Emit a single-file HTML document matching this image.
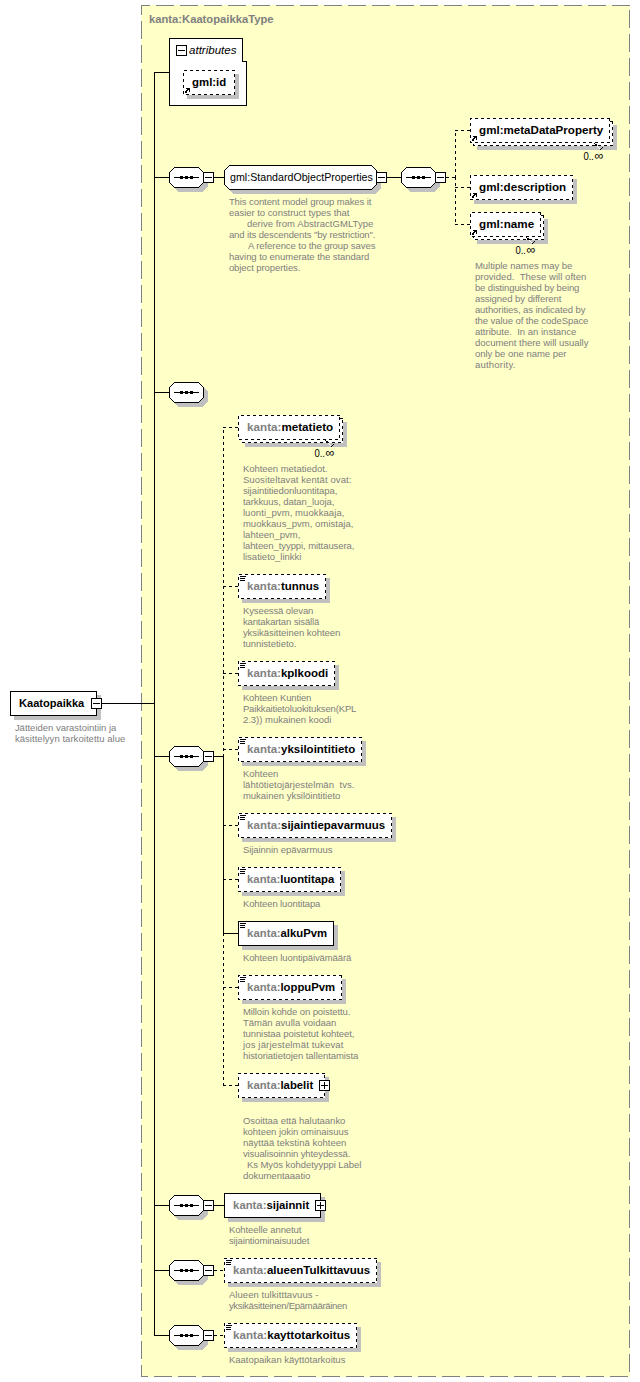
<!DOCTYPE html>
<html><head><meta charset="utf-8"><style>
html,body{margin:0;padding:0;background:#fff;width:640px;height:1382px;overflow:hidden}
svg{display:block;font-family:"Liberation Sans", sans-serif}
svg text{white-space:pre}
</style></head><body>
<svg width="640" height="1382" viewBox="0 0 640 1382" shape-rendering="crispEdges">
<rect x="141" y="5" width="489" height="1372" fill="#FFFFC8"/>
<path d="M141 5h9v1h-9zM156 5h18v1h-18zM180 5h18v1h-18zM204 5h18v1h-18zM228 5h18v1h-18zM252 5h18v1h-18zM276 5h18v1h-18zM300 5h18v1h-18zM324 5h18v1h-18zM348 5h18v1h-18zM372 5h18v1h-18zM396 5h18v1h-18zM420 5h18v1h-18zM444 5h18v1h-18zM468 5h18v1h-18zM492 5h18v1h-18zM516 5h18v1h-18zM540 5h18v1h-18zM564 5h18v1h-18zM588 5h18v1h-18zM612 5h18v1h-18zM141 6h1v1h-1zM141 7h1v1h-1zM141 8h1v1h-1zM141 9h1v1h-1zM141 10h1v1h-1zM629 10h1v1h-1zM141 11h1v1h-1zM629 11h1v1h-1zM141 12h1v1h-1zM629 12h1v1h-1zM141 13h1v1h-1zM629 13h1v1h-1zM141 14h1v1h-1zM629 14h1v1h-1zM629 15h1v1h-1zM629 16h1v1h-1zM629 17h1v1h-1zM629 18h1v1h-1zM629 19h1v1h-1zM629 20h1v1h-1zM141 21h1v1h-1zM629 21h1v1h-1zM141 22h1v1h-1zM629 22h1v1h-1zM141 23h1v1h-1zM629 23h1v1h-1zM141 24h1v1h-1zM629 24h1v1h-1zM141 25h1v1h-1zM629 25h1v1h-1zM141 26h1v1h-1zM629 26h1v1h-1zM141 27h1v1h-1zM629 27h1v1h-1zM141 28h1v1h-1zM141 29h1v1h-1zM141 30h1v1h-1zM141 31h1v1h-1zM141 32h1v1h-1zM141 33h1v1h-1zM141 34h1v1h-1zM629 34h1v1h-1zM141 35h1v1h-1zM629 35h1v1h-1zM141 36h1v1h-1zM629 36h1v1h-1zM141 37h1v1h-1zM629 37h1v1h-1zM141 38h1v1h-1zM629 38h1v1h-1zM629 39h1v1h-1zM629 40h1v1h-1zM629 41h1v1h-1zM629 42h1v1h-1zM629 43h1v1h-1zM629 44h1v1h-1zM141 45h1v1h-1zM629 45h1v1h-1zM141 46h1v1h-1zM629 46h1v1h-1zM141 47h1v1h-1zM629 47h1v1h-1zM141 48h1v1h-1zM629 48h1v1h-1zM141 49h1v1h-1zM629 49h1v1h-1zM141 50h1v1h-1zM629 50h1v1h-1zM141 51h1v1h-1zM629 51h1v1h-1zM141 52h1v1h-1zM141 53h1v1h-1zM141 54h1v1h-1zM141 55h1v1h-1zM141 56h1v1h-1zM141 57h1v1h-1zM141 58h1v1h-1zM629 58h1v1h-1zM141 59h1v1h-1zM629 59h1v1h-1zM141 60h1v1h-1zM629 60h1v1h-1zM141 61h1v1h-1zM629 61h1v1h-1zM141 62h1v1h-1zM629 62h1v1h-1zM629 63h1v1h-1zM629 64h1v1h-1zM629 65h1v1h-1zM629 66h1v1h-1zM629 67h1v1h-1zM629 68h1v1h-1zM141 69h1v1h-1zM629 69h1v1h-1zM141 70h1v1h-1zM629 70h1v1h-1zM141 71h1v1h-1zM629 71h1v1h-1zM141 72h1v1h-1zM629 72h1v1h-1zM141 73h1v1h-1zM629 73h1v1h-1zM141 74h1v1h-1zM629 74h1v1h-1zM141 75h1v1h-1zM629 75h1v1h-1zM141 76h1v1h-1zM141 77h1v1h-1zM141 78h1v1h-1zM141 79h1v1h-1zM141 80h1v1h-1zM141 81h1v1h-1zM141 82h1v1h-1zM629 82h1v1h-1zM141 83h1v1h-1zM629 83h1v1h-1zM141 84h1v1h-1zM629 84h1v1h-1zM141 85h1v1h-1zM629 85h1v1h-1zM141 86h1v1h-1zM629 86h1v1h-1zM629 87h1v1h-1zM629 88h1v1h-1zM629 89h1v1h-1zM629 90h1v1h-1zM629 91h1v1h-1zM629 92h1v1h-1zM141 93h1v1h-1zM629 93h1v1h-1zM141 94h1v1h-1zM629 94h1v1h-1zM141 95h1v1h-1zM629 95h1v1h-1zM141 96h1v1h-1zM629 96h1v1h-1zM141 97h1v1h-1zM629 97h1v1h-1zM141 98h1v1h-1zM629 98h1v1h-1zM141 99h1v1h-1zM629 99h1v1h-1zM141 100h1v1h-1zM141 101h1v1h-1zM141 102h1v1h-1zM141 103h1v1h-1zM141 104h1v1h-1zM141 105h1v1h-1zM141 106h1v1h-1zM629 106h1v1h-1zM141 107h1v1h-1zM629 107h1v1h-1zM141 108h1v1h-1zM629 108h1v1h-1zM141 109h1v1h-1zM629 109h1v1h-1zM141 110h1v1h-1zM629 110h1v1h-1zM629 111h1v1h-1zM629 112h1v1h-1zM629 113h1v1h-1zM629 114h1v1h-1zM629 115h1v1h-1zM629 116h1v1h-1zM141 117h1v1h-1zM629 117h1v1h-1zM141 118h1v1h-1zM629 118h1v1h-1zM141 119h1v1h-1zM629 119h1v1h-1zM141 120h1v1h-1zM629 120h1v1h-1zM141 121h1v1h-1zM629 121h1v1h-1zM141 122h1v1h-1zM629 122h1v1h-1zM141 123h1v1h-1zM629 123h1v1h-1zM141 124h1v1h-1zM141 125h1v1h-1zM141 126h1v1h-1zM141 127h1v1h-1zM141 128h1v1h-1zM141 129h1v1h-1zM141 130h1v1h-1zM629 130h1v1h-1zM141 131h1v1h-1zM629 131h1v1h-1zM141 132h1v1h-1zM629 132h1v1h-1zM141 133h1v1h-1zM629 133h1v1h-1zM141 134h1v1h-1zM629 134h1v1h-1zM629 135h1v1h-1zM629 136h1v1h-1zM629 137h1v1h-1zM629 138h1v1h-1zM629 139h1v1h-1zM629 140h1v1h-1zM141 141h1v1h-1zM629 141h1v1h-1zM141 142h1v1h-1zM629 142h1v1h-1zM141 143h1v1h-1zM629 143h1v1h-1zM141 144h1v1h-1zM629 144h1v1h-1zM141 145h1v1h-1zM629 145h1v1h-1zM141 146h1v1h-1zM629 146h1v1h-1zM141 147h1v1h-1zM629 147h1v1h-1zM141 148h1v1h-1zM141 149h1v1h-1zM141 150h1v1h-1zM141 151h1v1h-1zM141 152h1v1h-1zM141 153h1v1h-1zM141 154h1v1h-1zM629 154h1v1h-1zM141 155h1v1h-1zM629 155h1v1h-1zM141 156h1v1h-1zM629 156h1v1h-1zM141 157h1v1h-1zM629 157h1v1h-1zM141 158h1v1h-1zM629 158h1v1h-1zM629 159h1v1h-1zM629 160h1v1h-1zM629 161h1v1h-1zM629 162h1v1h-1zM629 163h1v1h-1zM629 164h1v1h-1zM141 165h1v1h-1zM629 165h1v1h-1zM141 166h1v1h-1zM629 166h1v1h-1zM141 167h1v1h-1zM629 167h1v1h-1zM141 168h1v1h-1zM629 168h1v1h-1zM141 169h1v1h-1zM629 169h1v1h-1zM141 170h1v1h-1zM629 170h1v1h-1zM141 171h1v1h-1zM629 171h1v1h-1zM141 172h1v1h-1zM141 173h1v1h-1zM141 174h1v1h-1zM141 175h1v1h-1zM141 176h1v1h-1zM141 177h1v1h-1zM141 178h1v1h-1zM629 178h1v1h-1zM141 179h1v1h-1zM629 179h1v1h-1zM141 180h1v1h-1zM629 180h1v1h-1zM141 181h1v1h-1zM629 181h1v1h-1zM141 182h1v1h-1zM629 182h1v1h-1zM629 183h1v1h-1zM629 184h1v1h-1zM629 185h1v1h-1zM629 186h1v1h-1zM629 187h1v1h-1zM629 188h1v1h-1zM141 189h1v1h-1zM629 189h1v1h-1zM141 190h1v1h-1zM629 190h1v1h-1zM141 191h1v1h-1zM629 191h1v1h-1zM141 192h1v1h-1zM629 192h1v1h-1zM141 193h1v1h-1zM629 193h1v1h-1zM141 194h1v1h-1zM629 194h1v1h-1zM141 195h1v1h-1zM629 195h1v1h-1zM141 196h1v1h-1zM141 197h1v1h-1zM141 198h1v1h-1zM141 199h1v1h-1zM141 200h1v1h-1zM141 201h1v1h-1zM141 202h1v1h-1zM629 202h1v1h-1zM141 203h1v1h-1zM629 203h1v1h-1zM141 204h1v1h-1zM629 204h1v1h-1zM141 205h1v1h-1zM629 205h1v1h-1zM141 206h1v1h-1zM629 206h1v1h-1zM629 207h1v1h-1zM629 208h1v1h-1zM629 209h1v1h-1zM629 210h1v1h-1zM629 211h1v1h-1zM629 212h1v1h-1zM141 213h1v1h-1zM629 213h1v1h-1zM141 214h1v1h-1zM629 214h1v1h-1zM141 215h1v1h-1zM629 215h1v1h-1zM141 216h1v1h-1zM629 216h1v1h-1zM141 217h1v1h-1zM629 217h1v1h-1zM141 218h1v1h-1zM629 218h1v1h-1zM141 219h1v1h-1zM629 219h1v1h-1zM141 220h1v1h-1zM141 221h1v1h-1zM141 222h1v1h-1zM141 223h1v1h-1zM141 224h1v1h-1zM141 225h1v1h-1zM141 226h1v1h-1zM629 226h1v1h-1zM141 227h1v1h-1zM629 227h1v1h-1zM141 228h1v1h-1zM629 228h1v1h-1zM141 229h1v1h-1zM629 229h1v1h-1zM141 230h1v1h-1zM629 230h1v1h-1zM629 231h1v1h-1zM629 232h1v1h-1zM629 233h1v1h-1zM629 234h1v1h-1zM629 235h1v1h-1zM629 236h1v1h-1zM141 237h1v1h-1zM629 237h1v1h-1zM141 238h1v1h-1zM629 238h1v1h-1zM141 239h1v1h-1zM629 239h1v1h-1zM141 240h1v1h-1zM629 240h1v1h-1zM141 241h1v1h-1zM629 241h1v1h-1zM141 242h1v1h-1zM629 242h1v1h-1zM141 243h1v1h-1zM629 243h1v1h-1zM141 244h1v1h-1zM141 245h1v1h-1zM141 246h1v1h-1zM141 247h1v1h-1zM141 248h1v1h-1zM141 249h1v1h-1zM141 250h1v1h-1zM629 250h1v1h-1zM141 251h1v1h-1zM629 251h1v1h-1zM141 252h1v1h-1zM629 252h1v1h-1zM141 253h1v1h-1zM629 253h1v1h-1zM141 254h1v1h-1zM629 254h1v1h-1zM629 255h1v1h-1zM629 256h1v1h-1zM629 257h1v1h-1zM629 258h1v1h-1zM629 259h1v1h-1zM629 260h1v1h-1zM141 261h1v1h-1zM629 261h1v1h-1zM141 262h1v1h-1zM629 262h1v1h-1zM141 263h1v1h-1zM629 263h1v1h-1zM141 264h1v1h-1zM629 264h1v1h-1zM141 265h1v1h-1zM629 265h1v1h-1zM141 266h1v1h-1zM629 266h1v1h-1zM141 267h1v1h-1zM629 267h1v1h-1zM141 268h1v1h-1zM141 269h1v1h-1zM141 270h1v1h-1zM141 271h1v1h-1zM141 272h1v1h-1zM141 273h1v1h-1zM141 274h1v1h-1zM629 274h1v1h-1zM141 275h1v1h-1zM629 275h1v1h-1zM141 276h1v1h-1zM629 276h1v1h-1zM141 277h1v1h-1zM629 277h1v1h-1zM141 278h1v1h-1zM629 278h1v1h-1zM629 279h1v1h-1zM629 280h1v1h-1zM629 281h1v1h-1zM629 282h1v1h-1zM629 283h1v1h-1zM629 284h1v1h-1zM141 285h1v1h-1zM629 285h1v1h-1zM141 286h1v1h-1zM629 286h1v1h-1zM141 287h1v1h-1zM629 287h1v1h-1zM141 288h1v1h-1zM629 288h1v1h-1zM141 289h1v1h-1zM629 289h1v1h-1zM141 290h1v1h-1zM629 290h1v1h-1zM141 291h1v1h-1zM629 291h1v1h-1zM141 292h1v1h-1zM141 293h1v1h-1zM141 294h1v1h-1zM141 295h1v1h-1zM141 296h1v1h-1zM141 297h1v1h-1zM141 298h1v1h-1zM629 298h1v1h-1zM141 299h1v1h-1zM629 299h1v1h-1zM141 300h1v1h-1zM629 300h1v1h-1zM141 301h1v1h-1zM629 301h1v1h-1zM141 302h1v1h-1zM629 302h1v1h-1zM629 303h1v1h-1zM629 304h1v1h-1zM629 305h1v1h-1zM629 306h1v1h-1zM629 307h1v1h-1zM629 308h1v1h-1zM141 309h1v1h-1zM629 309h1v1h-1zM141 310h1v1h-1zM629 310h1v1h-1zM141 311h1v1h-1zM629 311h1v1h-1zM141 312h1v1h-1zM629 312h1v1h-1zM141 313h1v1h-1zM629 313h1v1h-1zM141 314h1v1h-1zM629 314h1v1h-1zM141 315h1v1h-1zM629 315h1v1h-1zM141 316h1v1h-1zM141 317h1v1h-1zM141 318h1v1h-1zM141 319h1v1h-1zM141 320h1v1h-1zM141 321h1v1h-1zM141 322h1v1h-1zM629 322h1v1h-1zM141 323h1v1h-1zM629 323h1v1h-1zM141 324h1v1h-1zM629 324h1v1h-1zM141 325h1v1h-1zM629 325h1v1h-1zM141 326h1v1h-1zM629 326h1v1h-1zM629 327h1v1h-1zM629 328h1v1h-1zM629 329h1v1h-1zM629 330h1v1h-1zM629 331h1v1h-1zM629 332h1v1h-1zM141 333h1v1h-1zM629 333h1v1h-1zM141 334h1v1h-1zM629 334h1v1h-1zM141 335h1v1h-1zM629 335h1v1h-1zM141 336h1v1h-1zM629 336h1v1h-1zM141 337h1v1h-1zM629 337h1v1h-1zM141 338h1v1h-1zM629 338h1v1h-1zM141 339h1v1h-1zM629 339h1v1h-1zM141 340h1v1h-1zM141 341h1v1h-1zM141 342h1v1h-1zM141 343h1v1h-1zM141 344h1v1h-1zM141 345h1v1h-1zM141 346h1v1h-1zM629 346h1v1h-1zM141 347h1v1h-1zM629 347h1v1h-1zM141 348h1v1h-1zM629 348h1v1h-1zM141 349h1v1h-1zM629 349h1v1h-1zM141 350h1v1h-1zM629 350h1v1h-1zM629 351h1v1h-1zM629 352h1v1h-1zM629 353h1v1h-1zM629 354h1v1h-1zM629 355h1v1h-1zM629 356h1v1h-1zM141 357h1v1h-1zM629 357h1v1h-1zM141 358h1v1h-1zM629 358h1v1h-1zM141 359h1v1h-1zM629 359h1v1h-1zM141 360h1v1h-1zM629 360h1v1h-1zM141 361h1v1h-1zM629 361h1v1h-1zM141 362h1v1h-1zM629 362h1v1h-1zM141 363h1v1h-1zM629 363h1v1h-1zM141 364h1v1h-1zM141 365h1v1h-1zM141 366h1v1h-1zM141 367h1v1h-1zM141 368h1v1h-1zM141 369h1v1h-1zM141 370h1v1h-1zM629 370h1v1h-1zM141 371h1v1h-1zM629 371h1v1h-1zM141 372h1v1h-1zM629 372h1v1h-1zM141 373h1v1h-1zM629 373h1v1h-1zM141 374h1v1h-1zM629 374h1v1h-1zM629 375h1v1h-1zM629 376h1v1h-1zM629 377h1v1h-1zM629 378h1v1h-1zM629 379h1v1h-1zM629 380h1v1h-1zM141 381h1v1h-1zM629 381h1v1h-1zM141 382h1v1h-1zM629 382h1v1h-1zM141 383h1v1h-1zM629 383h1v1h-1zM141 384h1v1h-1zM629 384h1v1h-1zM141 385h1v1h-1zM629 385h1v1h-1zM141 386h1v1h-1zM629 386h1v1h-1zM141 387h1v1h-1zM629 387h1v1h-1zM141 388h1v1h-1zM141 389h1v1h-1zM141 390h1v1h-1zM141 391h1v1h-1zM141 392h1v1h-1zM141 393h1v1h-1zM141 394h1v1h-1zM629 394h1v1h-1zM141 395h1v1h-1zM629 395h1v1h-1zM141 396h1v1h-1zM629 396h1v1h-1zM141 397h1v1h-1zM629 397h1v1h-1zM141 398h1v1h-1zM629 398h1v1h-1zM629 399h1v1h-1zM629 400h1v1h-1zM629 401h1v1h-1zM629 402h1v1h-1zM629 403h1v1h-1zM629 404h1v1h-1zM141 405h1v1h-1zM629 405h1v1h-1zM141 406h1v1h-1zM629 406h1v1h-1zM141 407h1v1h-1zM629 407h1v1h-1zM141 408h1v1h-1zM629 408h1v1h-1zM141 409h1v1h-1zM629 409h1v1h-1zM141 410h1v1h-1zM629 410h1v1h-1zM141 411h1v1h-1zM629 411h1v1h-1zM141 412h1v1h-1zM141 413h1v1h-1zM141 414h1v1h-1zM141 415h1v1h-1zM141 416h1v1h-1zM141 417h1v1h-1zM141 418h1v1h-1zM629 418h1v1h-1zM141 419h1v1h-1zM629 419h1v1h-1zM141 420h1v1h-1zM629 420h1v1h-1zM141 421h1v1h-1zM629 421h1v1h-1zM141 422h1v1h-1zM629 422h1v1h-1zM629 423h1v1h-1zM629 424h1v1h-1zM629 425h1v1h-1zM629 426h1v1h-1zM629 427h1v1h-1zM629 428h1v1h-1zM141 429h1v1h-1zM629 429h1v1h-1zM141 430h1v1h-1zM629 430h1v1h-1zM141 431h1v1h-1zM629 431h1v1h-1zM141 432h1v1h-1zM629 432h1v1h-1zM141 433h1v1h-1zM629 433h1v1h-1zM141 434h1v1h-1zM629 434h1v1h-1zM141 435h1v1h-1zM629 435h1v1h-1zM141 436h1v1h-1zM141 437h1v1h-1zM141 438h1v1h-1zM141 439h1v1h-1zM141 440h1v1h-1zM141 441h1v1h-1zM141 442h1v1h-1zM629 442h1v1h-1zM141 443h1v1h-1zM629 443h1v1h-1zM141 444h1v1h-1zM629 444h1v1h-1zM141 445h1v1h-1zM629 445h1v1h-1zM141 446h1v1h-1zM629 446h1v1h-1zM629 447h1v1h-1zM629 448h1v1h-1zM629 449h1v1h-1zM629 450h1v1h-1zM629 451h1v1h-1zM629 452h1v1h-1zM141 453h1v1h-1zM629 453h1v1h-1zM141 454h1v1h-1zM629 454h1v1h-1zM141 455h1v1h-1zM629 455h1v1h-1zM141 456h1v1h-1zM629 456h1v1h-1zM141 457h1v1h-1zM629 457h1v1h-1zM141 458h1v1h-1zM629 458h1v1h-1zM141 459h1v1h-1zM629 459h1v1h-1zM141 460h1v1h-1zM141 461h1v1h-1zM141 462h1v1h-1zM141 463h1v1h-1zM141 464h1v1h-1zM141 465h1v1h-1zM141 466h1v1h-1zM629 466h1v1h-1zM141 467h1v1h-1zM629 467h1v1h-1zM141 468h1v1h-1zM629 468h1v1h-1zM141 469h1v1h-1zM629 469h1v1h-1zM141 470h1v1h-1zM629 470h1v1h-1zM629 471h1v1h-1zM629 472h1v1h-1zM629 473h1v1h-1zM629 474h1v1h-1zM629 475h1v1h-1zM629 476h1v1h-1zM141 477h1v1h-1zM629 477h1v1h-1zM141 478h1v1h-1zM629 478h1v1h-1zM141 479h1v1h-1zM629 479h1v1h-1zM141 480h1v1h-1zM629 480h1v1h-1zM141 481h1v1h-1zM629 481h1v1h-1zM141 482h1v1h-1zM629 482h1v1h-1zM141 483h1v1h-1zM629 483h1v1h-1zM141 484h1v1h-1zM141 485h1v1h-1zM141 486h1v1h-1zM141 487h1v1h-1zM141 488h1v1h-1zM141 489h1v1h-1zM141 490h1v1h-1zM629 490h1v1h-1zM141 491h1v1h-1zM629 491h1v1h-1zM141 492h1v1h-1zM629 492h1v1h-1zM141 493h1v1h-1zM629 493h1v1h-1zM141 494h1v1h-1zM629 494h1v1h-1zM629 495h1v1h-1zM629 496h1v1h-1zM629 497h1v1h-1zM629 498h1v1h-1zM629 499h1v1h-1zM629 500h1v1h-1zM141 501h1v1h-1zM629 501h1v1h-1zM141 502h1v1h-1zM629 502h1v1h-1zM141 503h1v1h-1zM629 503h1v1h-1zM141 504h1v1h-1zM629 504h1v1h-1zM141 505h1v1h-1zM629 505h1v1h-1zM141 506h1v1h-1zM629 506h1v1h-1zM141 507h1v1h-1zM629 507h1v1h-1zM141 508h1v1h-1zM141 509h1v1h-1zM141 510h1v1h-1zM141 511h1v1h-1zM141 512h1v1h-1zM141 513h1v1h-1zM141 514h1v1h-1zM629 514h1v1h-1zM141 515h1v1h-1zM629 515h1v1h-1zM141 516h1v1h-1zM629 516h1v1h-1zM141 517h1v1h-1zM629 517h1v1h-1zM141 518h1v1h-1zM629 518h1v1h-1zM629 519h1v1h-1zM629 520h1v1h-1zM629 521h1v1h-1zM629 522h1v1h-1zM629 523h1v1h-1zM629 524h1v1h-1zM141 525h1v1h-1zM629 525h1v1h-1zM141 526h1v1h-1zM629 526h1v1h-1zM141 527h1v1h-1zM629 527h1v1h-1zM141 528h1v1h-1zM629 528h1v1h-1zM141 529h1v1h-1zM629 529h1v1h-1zM141 530h1v1h-1zM629 530h1v1h-1zM141 531h1v1h-1zM629 531h1v1h-1zM141 532h1v1h-1zM141 533h1v1h-1zM141 534h1v1h-1zM141 535h1v1h-1zM141 536h1v1h-1zM141 537h1v1h-1zM141 538h1v1h-1zM629 538h1v1h-1zM141 539h1v1h-1zM629 539h1v1h-1zM141 540h1v1h-1zM629 540h1v1h-1zM141 541h1v1h-1zM629 541h1v1h-1zM141 542h1v1h-1zM629 542h1v1h-1zM629 543h1v1h-1zM629 544h1v1h-1zM629 545h1v1h-1zM629 546h1v1h-1zM629 547h1v1h-1zM629 548h1v1h-1zM141 549h1v1h-1zM629 549h1v1h-1zM141 550h1v1h-1zM629 550h1v1h-1zM141 551h1v1h-1zM629 551h1v1h-1zM141 552h1v1h-1zM629 552h1v1h-1zM141 553h1v1h-1zM629 553h1v1h-1zM141 554h1v1h-1zM629 554h1v1h-1zM141 555h1v1h-1zM629 555h1v1h-1zM141 556h1v1h-1zM141 557h1v1h-1zM141 558h1v1h-1zM141 559h1v1h-1zM141 560h1v1h-1zM141 561h1v1h-1zM141 562h1v1h-1zM629 562h1v1h-1zM141 563h1v1h-1zM629 563h1v1h-1zM141 564h1v1h-1zM629 564h1v1h-1zM141 565h1v1h-1zM629 565h1v1h-1zM141 566h1v1h-1zM629 566h1v1h-1zM629 567h1v1h-1zM629 568h1v1h-1zM629 569h1v1h-1zM629 570h1v1h-1zM629 571h1v1h-1zM629 572h1v1h-1zM141 573h1v1h-1zM629 573h1v1h-1zM141 574h1v1h-1zM629 574h1v1h-1zM141 575h1v1h-1zM629 575h1v1h-1zM141 576h1v1h-1zM629 576h1v1h-1zM141 577h1v1h-1zM629 577h1v1h-1zM141 578h1v1h-1zM629 578h1v1h-1zM141 579h1v1h-1zM629 579h1v1h-1zM141 580h1v1h-1zM141 581h1v1h-1zM141 582h1v1h-1zM141 583h1v1h-1zM141 584h1v1h-1zM141 585h1v1h-1zM141 586h1v1h-1zM629 586h1v1h-1zM141 587h1v1h-1zM629 587h1v1h-1zM141 588h1v1h-1zM629 588h1v1h-1zM141 589h1v1h-1zM629 589h1v1h-1zM141 590h1v1h-1zM629 590h1v1h-1zM629 591h1v1h-1zM629 592h1v1h-1zM629 593h1v1h-1zM629 594h1v1h-1zM629 595h1v1h-1zM629 596h1v1h-1zM141 597h1v1h-1zM629 597h1v1h-1zM141 598h1v1h-1zM629 598h1v1h-1zM141 599h1v1h-1zM629 599h1v1h-1zM141 600h1v1h-1zM629 600h1v1h-1zM141 601h1v1h-1zM629 601h1v1h-1zM141 602h1v1h-1zM629 602h1v1h-1zM141 603h1v1h-1zM629 603h1v1h-1zM141 604h1v1h-1zM141 605h1v1h-1zM141 606h1v1h-1zM141 607h1v1h-1zM141 608h1v1h-1zM141 609h1v1h-1zM141 610h1v1h-1zM629 610h1v1h-1zM141 611h1v1h-1zM629 611h1v1h-1zM141 612h1v1h-1zM629 612h1v1h-1zM141 613h1v1h-1zM629 613h1v1h-1zM141 614h1v1h-1zM629 614h1v1h-1zM629 615h1v1h-1zM629 616h1v1h-1zM629 617h1v1h-1zM629 618h1v1h-1zM629 619h1v1h-1zM629 620h1v1h-1zM141 621h1v1h-1zM629 621h1v1h-1zM141 622h1v1h-1zM629 622h1v1h-1zM141 623h1v1h-1zM629 623h1v1h-1zM141 624h1v1h-1zM629 624h1v1h-1zM141 625h1v1h-1zM629 625h1v1h-1zM141 626h1v1h-1zM629 626h1v1h-1zM141 627h1v1h-1zM629 627h1v1h-1zM141 628h1v1h-1zM141 629h1v1h-1zM141 630h1v1h-1zM141 631h1v1h-1zM141 632h1v1h-1zM141 633h1v1h-1zM141 634h1v1h-1zM629 634h1v1h-1zM141 635h1v1h-1zM629 635h1v1h-1zM141 636h1v1h-1zM629 636h1v1h-1zM141 637h1v1h-1zM629 637h1v1h-1zM141 638h1v1h-1zM629 638h1v1h-1zM629 639h1v1h-1zM629 640h1v1h-1zM629 641h1v1h-1zM629 642h1v1h-1zM629 643h1v1h-1zM629 644h1v1h-1zM141 645h1v1h-1zM629 645h1v1h-1zM141 646h1v1h-1zM629 646h1v1h-1zM141 647h1v1h-1zM629 647h1v1h-1zM141 648h1v1h-1zM629 648h1v1h-1zM141 649h1v1h-1zM629 649h1v1h-1zM141 650h1v1h-1zM629 650h1v1h-1zM141 651h1v1h-1zM629 651h1v1h-1zM141 652h1v1h-1zM141 653h1v1h-1zM141 654h1v1h-1zM141 655h1v1h-1zM141 656h1v1h-1zM141 657h1v1h-1zM141 658h1v1h-1zM629 658h1v1h-1zM141 659h1v1h-1zM629 659h1v1h-1zM141 660h1v1h-1zM629 660h1v1h-1zM141 661h1v1h-1zM629 661h1v1h-1zM141 662h1v1h-1zM629 662h1v1h-1zM629 663h1v1h-1zM629 664h1v1h-1zM629 665h1v1h-1zM629 666h1v1h-1zM629 667h1v1h-1zM629 668h1v1h-1zM141 669h1v1h-1zM629 669h1v1h-1zM141 670h1v1h-1zM629 670h1v1h-1zM141 671h1v1h-1zM629 671h1v1h-1zM141 672h1v1h-1zM629 672h1v1h-1zM141 673h1v1h-1zM629 673h1v1h-1zM141 674h1v1h-1zM629 674h1v1h-1zM141 675h1v1h-1zM629 675h1v1h-1zM141 676h1v1h-1zM141 677h1v1h-1zM141 678h1v1h-1zM141 679h1v1h-1zM141 680h1v1h-1zM141 681h1v1h-1zM141 682h1v1h-1zM629 682h1v1h-1zM141 683h1v1h-1zM629 683h1v1h-1zM141 684h1v1h-1zM629 684h1v1h-1zM141 685h1v1h-1zM629 685h1v1h-1zM141 686h1v1h-1zM629 686h1v1h-1zM629 687h1v1h-1zM629 688h1v1h-1zM629 689h1v1h-1zM629 690h1v1h-1zM629 691h1v1h-1zM629 692h1v1h-1zM141 693h1v1h-1zM629 693h1v1h-1zM141 694h1v1h-1zM629 694h1v1h-1zM141 695h1v1h-1zM629 695h1v1h-1zM141 696h1v1h-1zM629 696h1v1h-1zM141 697h1v1h-1zM629 697h1v1h-1zM141 698h1v1h-1zM629 698h1v1h-1zM141 699h1v1h-1zM629 699h1v1h-1zM141 700h1v1h-1zM141 701h1v1h-1zM141 702h1v1h-1zM141 703h1v1h-1zM141 704h1v1h-1zM141 705h1v1h-1zM141 706h1v1h-1zM629 706h1v1h-1zM141 707h1v1h-1zM629 707h1v1h-1zM141 708h1v1h-1zM629 708h1v1h-1zM141 709h1v1h-1zM629 709h1v1h-1zM141 710h1v1h-1zM629 710h1v1h-1zM629 711h1v1h-1zM629 712h1v1h-1zM629 713h1v1h-1zM629 714h1v1h-1zM629 715h1v1h-1zM629 716h1v1h-1zM141 717h1v1h-1zM629 717h1v1h-1zM141 718h1v1h-1zM629 718h1v1h-1zM141 719h1v1h-1zM629 719h1v1h-1zM141 720h1v1h-1zM629 720h1v1h-1zM141 721h1v1h-1zM629 721h1v1h-1zM141 722h1v1h-1zM629 722h1v1h-1zM141 723h1v1h-1zM629 723h1v1h-1zM141 724h1v1h-1zM141 725h1v1h-1zM141 726h1v1h-1zM141 727h1v1h-1zM141 728h1v1h-1zM141 729h1v1h-1zM141 730h1v1h-1zM629 730h1v1h-1zM141 731h1v1h-1zM629 731h1v1h-1zM141 732h1v1h-1zM629 732h1v1h-1zM141 733h1v1h-1zM629 733h1v1h-1zM141 734h1v1h-1zM629 734h1v1h-1zM629 735h1v1h-1zM629 736h1v1h-1zM629 737h1v1h-1zM629 738h1v1h-1zM629 739h1v1h-1zM629 740h1v1h-1zM141 741h1v1h-1zM629 741h1v1h-1zM141 742h1v1h-1zM629 742h1v1h-1zM141 743h1v1h-1zM629 743h1v1h-1zM141 744h1v1h-1zM629 744h1v1h-1zM141 745h1v1h-1zM629 745h1v1h-1zM141 746h1v1h-1zM629 746h1v1h-1zM141 747h1v1h-1zM629 747h1v1h-1zM141 748h1v1h-1zM141 749h1v1h-1zM141 750h1v1h-1zM141 751h1v1h-1zM141 752h1v1h-1zM141 753h1v1h-1zM141 754h1v1h-1zM629 754h1v1h-1zM141 755h1v1h-1zM629 755h1v1h-1zM141 756h1v1h-1zM629 756h1v1h-1zM141 757h1v1h-1zM629 757h1v1h-1zM141 758h1v1h-1zM629 758h1v1h-1zM629 759h1v1h-1zM629 760h1v1h-1zM629 761h1v1h-1zM629 762h1v1h-1zM629 763h1v1h-1zM629 764h1v1h-1zM141 765h1v1h-1zM629 765h1v1h-1zM141 766h1v1h-1zM629 766h1v1h-1zM141 767h1v1h-1zM629 767h1v1h-1zM141 768h1v1h-1zM629 768h1v1h-1zM141 769h1v1h-1zM629 769h1v1h-1zM141 770h1v1h-1zM629 770h1v1h-1zM141 771h1v1h-1zM629 771h1v1h-1zM141 772h1v1h-1zM141 773h1v1h-1zM141 774h1v1h-1zM141 775h1v1h-1zM141 776h1v1h-1zM141 777h1v1h-1zM141 778h1v1h-1zM629 778h1v1h-1zM141 779h1v1h-1zM629 779h1v1h-1zM141 780h1v1h-1zM629 780h1v1h-1zM141 781h1v1h-1zM629 781h1v1h-1zM141 782h1v1h-1zM629 782h1v1h-1zM629 783h1v1h-1zM629 784h1v1h-1zM629 785h1v1h-1zM629 786h1v1h-1zM629 787h1v1h-1zM629 788h1v1h-1zM141 789h1v1h-1zM629 789h1v1h-1zM141 790h1v1h-1zM629 790h1v1h-1zM141 791h1v1h-1zM629 791h1v1h-1zM141 792h1v1h-1zM629 792h1v1h-1zM141 793h1v1h-1zM629 793h1v1h-1zM141 794h1v1h-1zM629 794h1v1h-1zM141 795h1v1h-1zM629 795h1v1h-1zM141 796h1v1h-1zM141 797h1v1h-1zM141 798h1v1h-1zM141 799h1v1h-1zM141 800h1v1h-1zM141 801h1v1h-1zM141 802h1v1h-1zM629 802h1v1h-1zM141 803h1v1h-1zM629 803h1v1h-1zM141 804h1v1h-1zM629 804h1v1h-1zM141 805h1v1h-1zM629 805h1v1h-1zM141 806h1v1h-1zM629 806h1v1h-1zM629 807h1v1h-1zM629 808h1v1h-1zM629 809h1v1h-1zM629 810h1v1h-1zM629 811h1v1h-1zM629 812h1v1h-1zM141 813h1v1h-1zM629 813h1v1h-1zM141 814h1v1h-1zM629 814h1v1h-1zM141 815h1v1h-1zM629 815h1v1h-1zM141 816h1v1h-1zM629 816h1v1h-1zM141 817h1v1h-1zM629 817h1v1h-1zM141 818h1v1h-1zM629 818h1v1h-1zM141 819h1v1h-1zM629 819h1v1h-1zM141 820h1v1h-1zM141 821h1v1h-1zM141 822h1v1h-1zM141 823h1v1h-1zM141 824h1v1h-1zM141 825h1v1h-1zM141 826h1v1h-1zM629 826h1v1h-1zM141 827h1v1h-1zM629 827h1v1h-1zM141 828h1v1h-1zM629 828h1v1h-1zM141 829h1v1h-1zM629 829h1v1h-1zM141 830h1v1h-1zM629 830h1v1h-1zM629 831h1v1h-1zM629 832h1v1h-1zM629 833h1v1h-1zM629 834h1v1h-1zM629 835h1v1h-1zM629 836h1v1h-1zM141 837h1v1h-1zM629 837h1v1h-1zM141 838h1v1h-1zM629 838h1v1h-1zM141 839h1v1h-1zM629 839h1v1h-1zM141 840h1v1h-1zM629 840h1v1h-1zM141 841h1v1h-1zM629 841h1v1h-1zM141 842h1v1h-1zM629 842h1v1h-1zM141 843h1v1h-1zM629 843h1v1h-1zM141 844h1v1h-1zM141 845h1v1h-1zM141 846h1v1h-1zM141 847h1v1h-1zM141 848h1v1h-1zM141 849h1v1h-1zM141 850h1v1h-1zM629 850h1v1h-1zM141 851h1v1h-1zM629 851h1v1h-1zM141 852h1v1h-1zM629 852h1v1h-1zM141 853h1v1h-1zM629 853h1v1h-1zM141 854h1v1h-1zM629 854h1v1h-1zM629 855h1v1h-1zM629 856h1v1h-1zM629 857h1v1h-1zM629 858h1v1h-1zM629 859h1v1h-1zM629 860h1v1h-1zM141 861h1v1h-1zM629 861h1v1h-1zM141 862h1v1h-1zM629 862h1v1h-1zM141 863h1v1h-1zM629 863h1v1h-1zM141 864h1v1h-1zM629 864h1v1h-1zM141 865h1v1h-1zM629 865h1v1h-1zM141 866h1v1h-1zM629 866h1v1h-1zM141 867h1v1h-1zM629 867h1v1h-1zM141 868h1v1h-1zM141 869h1v1h-1zM141 870h1v1h-1zM141 871h1v1h-1zM141 872h1v1h-1zM141 873h1v1h-1zM141 874h1v1h-1zM629 874h1v1h-1zM141 875h1v1h-1zM629 875h1v1h-1zM141 876h1v1h-1zM629 876h1v1h-1zM141 877h1v1h-1zM629 877h1v1h-1zM141 878h1v1h-1zM629 878h1v1h-1zM629 879h1v1h-1zM629 880h1v1h-1zM629 881h1v1h-1zM629 882h1v1h-1zM629 883h1v1h-1zM629 884h1v1h-1zM141 885h1v1h-1zM629 885h1v1h-1zM141 886h1v1h-1zM629 886h1v1h-1zM141 887h1v1h-1zM629 887h1v1h-1zM141 888h1v1h-1zM629 888h1v1h-1zM141 889h1v1h-1zM629 889h1v1h-1zM141 890h1v1h-1zM629 890h1v1h-1zM141 891h1v1h-1zM629 891h1v1h-1zM141 892h1v1h-1zM141 893h1v1h-1zM141 894h1v1h-1zM141 895h1v1h-1zM141 896h1v1h-1zM141 897h1v1h-1zM141 898h1v1h-1zM629 898h1v1h-1zM141 899h1v1h-1zM629 899h1v1h-1zM141 900h1v1h-1zM629 900h1v1h-1zM141 901h1v1h-1zM629 901h1v1h-1zM141 902h1v1h-1zM629 902h1v1h-1zM629 903h1v1h-1zM629 904h1v1h-1zM629 905h1v1h-1zM629 906h1v1h-1zM629 907h1v1h-1zM629 908h1v1h-1zM141 909h1v1h-1zM629 909h1v1h-1zM141 910h1v1h-1zM629 910h1v1h-1zM141 911h1v1h-1zM629 911h1v1h-1zM141 912h1v1h-1zM629 912h1v1h-1zM141 913h1v1h-1zM629 913h1v1h-1zM141 914h1v1h-1zM629 914h1v1h-1zM141 915h1v1h-1zM629 915h1v1h-1zM141 916h1v1h-1zM141 917h1v1h-1zM141 918h1v1h-1zM141 919h1v1h-1zM141 920h1v1h-1zM141 921h1v1h-1zM141 922h1v1h-1zM629 922h1v1h-1zM141 923h1v1h-1zM629 923h1v1h-1zM141 924h1v1h-1zM629 924h1v1h-1zM141 925h1v1h-1zM629 925h1v1h-1zM141 926h1v1h-1zM629 926h1v1h-1zM629 927h1v1h-1zM629 928h1v1h-1zM629 929h1v1h-1zM629 930h1v1h-1zM629 931h1v1h-1zM629 932h1v1h-1zM141 933h1v1h-1zM629 933h1v1h-1zM141 934h1v1h-1zM629 934h1v1h-1zM141 935h1v1h-1zM629 935h1v1h-1zM141 936h1v1h-1zM629 936h1v1h-1zM141 937h1v1h-1zM629 937h1v1h-1zM141 938h1v1h-1zM629 938h1v1h-1zM141 939h1v1h-1zM629 939h1v1h-1zM141 940h1v1h-1zM141 941h1v1h-1zM141 942h1v1h-1zM141 943h1v1h-1zM141 944h1v1h-1zM141 945h1v1h-1zM141 946h1v1h-1zM629 946h1v1h-1zM141 947h1v1h-1zM629 947h1v1h-1zM141 948h1v1h-1zM629 948h1v1h-1zM141 949h1v1h-1zM629 949h1v1h-1zM141 950h1v1h-1zM629 950h1v1h-1zM629 951h1v1h-1zM629 952h1v1h-1zM629 953h1v1h-1zM629 954h1v1h-1zM629 955h1v1h-1zM629 956h1v1h-1zM141 957h1v1h-1zM629 957h1v1h-1zM141 958h1v1h-1zM629 958h1v1h-1zM141 959h1v1h-1zM629 959h1v1h-1zM141 960h1v1h-1zM629 960h1v1h-1zM141 961h1v1h-1zM629 961h1v1h-1zM141 962h1v1h-1zM629 962h1v1h-1zM141 963h1v1h-1zM629 963h1v1h-1zM141 964h1v1h-1zM141 965h1v1h-1zM141 966h1v1h-1zM141 967h1v1h-1zM141 968h1v1h-1zM141 969h1v1h-1zM141 970h1v1h-1zM629 970h1v1h-1zM141 971h1v1h-1zM629 971h1v1h-1zM141 972h1v1h-1zM629 972h1v1h-1zM141 973h1v1h-1zM629 973h1v1h-1zM141 974h1v1h-1zM629 974h1v1h-1zM629 975h1v1h-1zM629 976h1v1h-1zM629 977h1v1h-1zM629 978h1v1h-1zM629 979h1v1h-1zM629 980h1v1h-1zM141 981h1v1h-1zM629 981h1v1h-1zM141 982h1v1h-1zM629 982h1v1h-1zM141 983h1v1h-1zM629 983h1v1h-1zM141 984h1v1h-1zM629 984h1v1h-1zM141 985h1v1h-1zM629 985h1v1h-1zM141 986h1v1h-1zM629 986h1v1h-1zM141 987h1v1h-1zM629 987h1v1h-1zM141 988h1v1h-1zM141 989h1v1h-1zM141 990h1v1h-1zM141 991h1v1h-1zM141 992h1v1h-1zM141 993h1v1h-1zM141 994h1v1h-1zM629 994h1v1h-1zM141 995h1v1h-1zM629 995h1v1h-1zM141 996h1v1h-1zM629 996h1v1h-1zM141 997h1v1h-1zM629 997h1v1h-1zM141 998h1v1h-1zM629 998h1v1h-1zM629 999h1v1h-1zM629 1000h1v1h-1zM629 1001h1v1h-1zM629 1002h1v1h-1zM629 1003h1v1h-1zM629 1004h1v1h-1zM141 1005h1v1h-1zM629 1005h1v1h-1zM141 1006h1v1h-1zM629 1006h1v1h-1zM141 1007h1v1h-1zM629 1007h1v1h-1zM141 1008h1v1h-1zM629 1008h1v1h-1zM141 1009h1v1h-1zM629 1009h1v1h-1zM141 1010h1v1h-1zM629 1010h1v1h-1zM141 1011h1v1h-1zM629 1011h1v1h-1zM141 1012h1v1h-1zM141 1013h1v1h-1zM141 1014h1v1h-1zM141 1015h1v1h-1zM141 1016h1v1h-1zM141 1017h1v1h-1zM141 1018h1v1h-1zM629 1018h1v1h-1zM141 1019h1v1h-1zM629 1019h1v1h-1zM141 1020h1v1h-1zM629 1020h1v1h-1zM141 1021h1v1h-1zM629 1021h1v1h-1zM141 1022h1v1h-1zM629 1022h1v1h-1zM629 1023h1v1h-1zM629 1024h1v1h-1zM629 1025h1v1h-1zM629 1026h1v1h-1zM629 1027h1v1h-1zM629 1028h1v1h-1zM141 1029h1v1h-1zM629 1029h1v1h-1zM141 1030h1v1h-1zM629 1030h1v1h-1zM141 1031h1v1h-1zM629 1031h1v1h-1zM141 1032h1v1h-1zM629 1032h1v1h-1zM141 1033h1v1h-1zM629 1033h1v1h-1zM141 1034h1v1h-1zM629 1034h1v1h-1zM141 1035h1v1h-1zM629 1035h1v1h-1zM141 1036h1v1h-1zM141 1037h1v1h-1zM141 1038h1v1h-1zM141 1039h1v1h-1zM141 1040h1v1h-1zM141 1041h1v1h-1zM141 1042h1v1h-1zM629 1042h1v1h-1zM141 1043h1v1h-1zM629 1043h1v1h-1zM141 1044h1v1h-1zM629 1044h1v1h-1zM141 1045h1v1h-1zM629 1045h1v1h-1zM141 1046h1v1h-1zM629 1046h1v1h-1zM629 1047h1v1h-1zM629 1048h1v1h-1zM629 1049h1v1h-1zM629 1050h1v1h-1zM629 1051h1v1h-1zM629 1052h1v1h-1zM141 1053h1v1h-1zM629 1053h1v1h-1zM141 1054h1v1h-1zM629 1054h1v1h-1zM141 1055h1v1h-1zM629 1055h1v1h-1zM141 1056h1v1h-1zM629 1056h1v1h-1zM141 1057h1v1h-1zM629 1057h1v1h-1zM141 1058h1v1h-1zM629 1058h1v1h-1zM141 1059h1v1h-1zM629 1059h1v1h-1zM141 1060h1v1h-1zM141 1061h1v1h-1zM141 1062h1v1h-1zM141 1063h1v1h-1zM141 1064h1v1h-1zM141 1065h1v1h-1zM141 1066h1v1h-1zM629 1066h1v1h-1zM141 1067h1v1h-1zM629 1067h1v1h-1zM141 1068h1v1h-1zM629 1068h1v1h-1zM141 1069h1v1h-1zM629 1069h1v1h-1zM141 1070h1v1h-1zM629 1070h1v1h-1zM629 1071h1v1h-1zM629 1072h1v1h-1zM629 1073h1v1h-1zM629 1074h1v1h-1zM629 1075h1v1h-1zM629 1076h1v1h-1zM141 1077h1v1h-1zM629 1077h1v1h-1zM141 1078h1v1h-1zM629 1078h1v1h-1zM141 1079h1v1h-1zM629 1079h1v1h-1zM141 1080h1v1h-1zM629 1080h1v1h-1zM141 1081h1v1h-1zM629 1081h1v1h-1zM141 1082h1v1h-1zM629 1082h1v1h-1zM141 1083h1v1h-1zM629 1083h1v1h-1zM141 1084h1v1h-1zM141 1085h1v1h-1zM141 1086h1v1h-1zM141 1087h1v1h-1zM141 1088h1v1h-1zM141 1089h1v1h-1zM141 1090h1v1h-1zM629 1090h1v1h-1zM141 1091h1v1h-1zM629 1091h1v1h-1zM141 1092h1v1h-1zM629 1092h1v1h-1zM141 1093h1v1h-1zM629 1093h1v1h-1zM141 1094h1v1h-1zM629 1094h1v1h-1zM629 1095h1v1h-1zM629 1096h1v1h-1zM629 1097h1v1h-1zM629 1098h1v1h-1zM629 1099h1v1h-1zM629 1100h1v1h-1zM141 1101h1v1h-1zM629 1101h1v1h-1zM141 1102h1v1h-1zM629 1102h1v1h-1zM141 1103h1v1h-1zM629 1103h1v1h-1zM141 1104h1v1h-1zM629 1104h1v1h-1zM141 1105h1v1h-1zM629 1105h1v1h-1zM141 1106h1v1h-1zM629 1106h1v1h-1zM141 1107h1v1h-1zM629 1107h1v1h-1zM141 1108h1v1h-1zM141 1109h1v1h-1zM141 1110h1v1h-1zM141 1111h1v1h-1zM141 1112h1v1h-1zM141 1113h1v1h-1zM141 1114h1v1h-1zM629 1114h1v1h-1zM141 1115h1v1h-1zM629 1115h1v1h-1zM141 1116h1v1h-1zM629 1116h1v1h-1zM141 1117h1v1h-1zM629 1117h1v1h-1zM141 1118h1v1h-1zM629 1118h1v1h-1zM629 1119h1v1h-1zM629 1120h1v1h-1zM629 1121h1v1h-1zM629 1122h1v1h-1zM629 1123h1v1h-1zM629 1124h1v1h-1zM141 1125h1v1h-1zM629 1125h1v1h-1zM141 1126h1v1h-1zM629 1126h1v1h-1zM141 1127h1v1h-1zM629 1127h1v1h-1zM141 1128h1v1h-1zM629 1128h1v1h-1zM141 1129h1v1h-1zM629 1129h1v1h-1zM141 1130h1v1h-1zM629 1130h1v1h-1zM141 1131h1v1h-1zM629 1131h1v1h-1zM141 1132h1v1h-1zM141 1133h1v1h-1zM141 1134h1v1h-1zM141 1135h1v1h-1zM141 1136h1v1h-1zM141 1137h1v1h-1zM141 1138h1v1h-1zM629 1138h1v1h-1zM141 1139h1v1h-1zM629 1139h1v1h-1zM141 1140h1v1h-1zM629 1140h1v1h-1zM141 1141h1v1h-1zM629 1141h1v1h-1zM141 1142h1v1h-1zM629 1142h1v1h-1zM629 1143h1v1h-1zM629 1144h1v1h-1zM629 1145h1v1h-1zM629 1146h1v1h-1zM629 1147h1v1h-1zM629 1148h1v1h-1zM141 1149h1v1h-1zM629 1149h1v1h-1zM141 1150h1v1h-1zM629 1150h1v1h-1zM141 1151h1v1h-1zM629 1151h1v1h-1zM141 1152h1v1h-1zM629 1152h1v1h-1zM141 1153h1v1h-1zM629 1153h1v1h-1zM141 1154h1v1h-1zM629 1154h1v1h-1zM141 1155h1v1h-1zM629 1155h1v1h-1zM141 1156h1v1h-1zM141 1157h1v1h-1zM141 1158h1v1h-1zM141 1159h1v1h-1zM141 1160h1v1h-1zM141 1161h1v1h-1zM141 1162h1v1h-1zM629 1162h1v1h-1zM141 1163h1v1h-1zM629 1163h1v1h-1zM141 1164h1v1h-1zM629 1164h1v1h-1zM141 1165h1v1h-1zM629 1165h1v1h-1zM141 1166h1v1h-1zM629 1166h1v1h-1zM629 1167h1v1h-1zM629 1168h1v1h-1zM629 1169h1v1h-1zM629 1170h1v1h-1zM629 1171h1v1h-1zM629 1172h1v1h-1zM141 1173h1v1h-1zM629 1173h1v1h-1zM141 1174h1v1h-1zM629 1174h1v1h-1zM141 1175h1v1h-1zM629 1175h1v1h-1zM141 1176h1v1h-1zM629 1176h1v1h-1zM141 1177h1v1h-1zM629 1177h1v1h-1zM141 1178h1v1h-1zM629 1178h1v1h-1zM141 1179h1v1h-1zM629 1179h1v1h-1zM141 1180h1v1h-1zM141 1181h1v1h-1zM141 1182h1v1h-1zM141 1183h1v1h-1zM141 1184h1v1h-1zM141 1185h1v1h-1zM141 1186h1v1h-1zM629 1186h1v1h-1zM141 1187h1v1h-1zM629 1187h1v1h-1zM141 1188h1v1h-1zM629 1188h1v1h-1zM141 1189h1v1h-1zM629 1189h1v1h-1zM141 1190h1v1h-1zM629 1190h1v1h-1zM629 1191h1v1h-1zM629 1192h1v1h-1zM629 1193h1v1h-1zM629 1194h1v1h-1zM629 1195h1v1h-1zM629 1196h1v1h-1zM141 1197h1v1h-1zM629 1197h1v1h-1zM141 1198h1v1h-1zM629 1198h1v1h-1zM141 1199h1v1h-1zM629 1199h1v1h-1zM141 1200h1v1h-1zM629 1200h1v1h-1zM141 1201h1v1h-1zM629 1201h1v1h-1zM141 1202h1v1h-1zM629 1202h1v1h-1zM141 1203h1v1h-1zM629 1203h1v1h-1zM141 1204h1v1h-1zM141 1205h1v1h-1zM141 1206h1v1h-1zM141 1207h1v1h-1zM141 1208h1v1h-1zM141 1209h1v1h-1zM141 1210h1v1h-1zM629 1210h1v1h-1zM141 1211h1v1h-1zM629 1211h1v1h-1zM141 1212h1v1h-1zM629 1212h1v1h-1zM141 1213h1v1h-1zM629 1213h1v1h-1zM141 1214h1v1h-1zM629 1214h1v1h-1zM629 1215h1v1h-1zM629 1216h1v1h-1zM629 1217h1v1h-1zM629 1218h1v1h-1zM629 1219h1v1h-1zM629 1220h1v1h-1zM141 1221h1v1h-1zM629 1221h1v1h-1zM141 1222h1v1h-1zM629 1222h1v1h-1zM141 1223h1v1h-1zM629 1223h1v1h-1zM141 1224h1v1h-1zM629 1224h1v1h-1zM141 1225h1v1h-1zM629 1225h1v1h-1zM141 1226h1v1h-1zM629 1226h1v1h-1zM141 1227h1v1h-1zM629 1227h1v1h-1zM141 1228h1v1h-1zM141 1229h1v1h-1zM141 1230h1v1h-1zM141 1231h1v1h-1zM141 1232h1v1h-1zM141 1233h1v1h-1zM141 1234h1v1h-1zM629 1234h1v1h-1zM141 1235h1v1h-1zM629 1235h1v1h-1zM141 1236h1v1h-1zM629 1236h1v1h-1zM141 1237h1v1h-1zM629 1237h1v1h-1zM141 1238h1v1h-1zM629 1238h1v1h-1zM629 1239h1v1h-1zM629 1240h1v1h-1zM629 1241h1v1h-1zM629 1242h1v1h-1zM629 1243h1v1h-1zM629 1244h1v1h-1zM141 1245h1v1h-1zM629 1245h1v1h-1zM141 1246h1v1h-1zM629 1246h1v1h-1zM141 1247h1v1h-1zM629 1247h1v1h-1zM141 1248h1v1h-1zM629 1248h1v1h-1zM141 1249h1v1h-1zM629 1249h1v1h-1zM141 1250h1v1h-1zM629 1250h1v1h-1zM141 1251h1v1h-1zM629 1251h1v1h-1zM141 1252h1v1h-1zM141 1253h1v1h-1zM141 1254h1v1h-1zM141 1255h1v1h-1zM141 1256h1v1h-1zM141 1257h1v1h-1zM141 1258h1v1h-1zM629 1258h1v1h-1zM141 1259h1v1h-1zM629 1259h1v1h-1zM141 1260h1v1h-1zM629 1260h1v1h-1zM141 1261h1v1h-1zM629 1261h1v1h-1zM141 1262h1v1h-1zM629 1262h1v1h-1zM629 1263h1v1h-1zM629 1264h1v1h-1zM629 1265h1v1h-1zM629 1266h1v1h-1zM629 1267h1v1h-1zM629 1268h1v1h-1zM141 1269h1v1h-1zM629 1269h1v1h-1zM141 1270h1v1h-1zM629 1270h1v1h-1zM141 1271h1v1h-1zM629 1271h1v1h-1zM141 1272h1v1h-1zM629 1272h1v1h-1zM141 1273h1v1h-1zM629 1273h1v1h-1zM141 1274h1v1h-1zM629 1274h1v1h-1zM141 1275h1v1h-1zM629 1275h1v1h-1zM141 1276h1v1h-1zM141 1277h1v1h-1zM141 1278h1v1h-1zM141 1279h1v1h-1zM141 1280h1v1h-1zM141 1281h1v1h-1zM141 1282h1v1h-1zM629 1282h1v1h-1zM141 1283h1v1h-1zM629 1283h1v1h-1zM141 1284h1v1h-1zM629 1284h1v1h-1zM141 1285h1v1h-1zM629 1285h1v1h-1zM141 1286h1v1h-1zM629 1286h1v1h-1zM629 1287h1v1h-1zM629 1288h1v1h-1zM629 1289h1v1h-1zM629 1290h1v1h-1zM629 1291h1v1h-1zM629 1292h1v1h-1zM141 1293h1v1h-1zM629 1293h1v1h-1zM141 1294h1v1h-1zM629 1294h1v1h-1zM141 1295h1v1h-1zM629 1295h1v1h-1zM141 1296h1v1h-1zM629 1296h1v1h-1zM141 1297h1v1h-1zM629 1297h1v1h-1zM141 1298h1v1h-1zM629 1298h1v1h-1zM141 1299h1v1h-1zM629 1299h1v1h-1zM141 1300h1v1h-1zM141 1301h1v1h-1zM141 1302h1v1h-1zM141 1303h1v1h-1zM141 1304h1v1h-1zM141 1305h1v1h-1zM141 1306h1v1h-1zM629 1306h1v1h-1zM141 1307h1v1h-1zM629 1307h1v1h-1zM141 1308h1v1h-1zM629 1308h1v1h-1zM141 1309h1v1h-1zM629 1309h1v1h-1zM141 1310h1v1h-1zM629 1310h1v1h-1zM629 1311h1v1h-1zM629 1312h1v1h-1zM629 1313h1v1h-1zM629 1314h1v1h-1zM629 1315h1v1h-1zM629 1316h1v1h-1zM141 1317h1v1h-1zM629 1317h1v1h-1zM141 1318h1v1h-1zM629 1318h1v1h-1zM141 1319h1v1h-1zM629 1319h1v1h-1zM141 1320h1v1h-1zM629 1320h1v1h-1zM141 1321h1v1h-1zM629 1321h1v1h-1zM141 1322h1v1h-1zM629 1322h1v1h-1zM141 1323h1v1h-1zM629 1323h1v1h-1zM141 1324h1v1h-1zM141 1325h1v1h-1zM141 1326h1v1h-1zM141 1327h1v1h-1zM141 1328h1v1h-1zM141 1329h1v1h-1zM141 1330h1v1h-1zM629 1330h1v1h-1zM141 1331h1v1h-1zM629 1331h1v1h-1zM141 1332h1v1h-1zM629 1332h1v1h-1zM141 1333h1v1h-1zM629 1333h1v1h-1zM141 1334h1v1h-1zM629 1334h1v1h-1zM629 1335h1v1h-1zM629 1336h1v1h-1zM629 1337h1v1h-1zM629 1338h1v1h-1zM629 1339h1v1h-1zM629 1340h1v1h-1zM141 1341h1v1h-1zM629 1341h1v1h-1zM141 1342h1v1h-1zM629 1342h1v1h-1zM141 1343h1v1h-1zM629 1343h1v1h-1zM141 1344h1v1h-1zM629 1344h1v1h-1zM141 1345h1v1h-1zM629 1345h1v1h-1zM141 1346h1v1h-1zM629 1346h1v1h-1zM141 1347h1v1h-1zM629 1347h1v1h-1zM141 1348h1v1h-1zM141 1349h1v1h-1zM141 1350h1v1h-1zM141 1351h1v1h-1zM141 1352h1v1h-1zM141 1353h1v1h-1zM141 1354h1v1h-1zM629 1354h1v1h-1zM141 1355h1v1h-1zM629 1355h1v1h-1zM141 1356h1v1h-1zM629 1356h1v1h-1zM141 1357h1v1h-1zM629 1357h1v1h-1zM141 1358h1v1h-1zM629 1358h1v1h-1zM629 1359h1v1h-1zM629 1360h1v1h-1zM629 1361h1v1h-1zM629 1362h1v1h-1zM629 1363h1v1h-1zM629 1364h1v1h-1zM141 1365h1v1h-1zM629 1365h1v1h-1zM141 1366h1v1h-1zM629 1366h1v1h-1zM141 1367h1v1h-1zM629 1367h1v1h-1zM141 1368h1v1h-1zM629 1368h1v1h-1zM141 1369h1v1h-1zM629 1369h1v1h-1zM141 1370h1v1h-1zM629 1370h1v1h-1zM141 1371h1v1h-1zM629 1371h1v1h-1zM141 1372h1v1h-1zM141 1373h1v1h-1zM141 1374h1v1h-1zM141 1375h1v1h-1zM141 1376h7v1h-7zM154 1376h18v1h-18zM178 1376h18v1h-18zM202 1376h18v1h-18zM226 1376h18v1h-18zM250 1376h18v1h-18zM274 1376h18v1h-18zM298 1376h18v1h-18zM322 1376h18v1h-18zM346 1376h18v1h-18zM370 1376h18v1h-18zM394 1376h18v1h-18zM418 1376h18v1h-18zM442 1376h18v1h-18zM466 1376h18v1h-18zM490 1376h18v1h-18zM514 1376h18v1h-18zM538 1376h18v1h-18zM562 1376h18v1h-18zM586 1376h18v1h-18zM610 1376h18v1h-18z" fill="#808080"/>
<text x="149" y="23" font-size="11" font-weight="bold" font-style="normal" fill="#808080" textLength="124.5" lengthAdjust="spacingAndGlyphs">kanta:KaatopaikkaType</text>
<rect x="14" y="695" width="87" height="25" fill="#C0C0C0"/>
<rect x="10.5" y="691.5" width="86" height="24" fill="#fff" stroke="#000"/>
<text x="19" y="707" font-size="11" font-weight="bold" font-style="normal" fill="#000" textLength="65.2" lengthAdjust="spacingAndGlyphs">Kaatopaikka</text>
<rect x="91.5" y="698.5" width="10" height="10" fill="#fff" stroke="#000"/>
<line x1="93" y1="703.5" x2="100" y2="703.5" stroke="#000"/>
<line x1="102" y1="703.5" x2="155" y2="703.5" stroke="#000"/>
<text x="14.9" y="731" font-size="9.5" fill="#7E7E7E" textLength="101.50" lengthAdjust="spacing">Jätteiden varastointiin ja</text>
<text x="14.9" y="742" font-size="9.5" fill="#7E7E7E" textLength="110.50" lengthAdjust="spacing">käsittelyyn tarkoitettu alue</text>
<line x1="154.5" y1="72" x2="154.5" y2="1336" stroke="#000"/>
<line x1="155" y1="72.5" x2="170" y2="72.5" stroke="#000"/>
<polygon points="169.5,38.5 242.5,38.5 242.5,61.5 246.5,61.5 246.5,105.5 169.5,105.5" fill="#fff" stroke="#000"/>
<rect x="176.5" y="45.5" width="10" height="10" fill="#fff" stroke="#000"/>
<line x1="178" y1="50.5" x2="185" y2="50.5" stroke="#000"/>
<text x="189" y="54" font-size="11" font-weight="normal" font-style="italic" fill="#000" textLength="47.5" lengthAdjust="spacingAndGlyphs">attributes</text>
<rect x="187" y="74" width="52" height="25" fill="#C0C0C0"/>
<rect x="183" y="70" width="52" height="25" fill="#fff"/>
<path d="M184 70h3v1h-3zM190 70h3v1h-3zM196 70h3v1h-3zM202 70h3v1h-3zM208 70h3v1h-3zM214 70h3v1h-3zM220 70h3v1h-3zM226 70h3v1h-3zM232 70h3v1h-3zM183 73h1v1h-1zM183 74h1v1h-1zM234 74h1v1h-1zM183 75h1v1h-1zM234 75h1v1h-1zM234 76h1v1h-1zM183 79h1v1h-1zM183 80h1v1h-1zM234 80h1v1h-1zM183 81h1v1h-1zM234 81h1v1h-1zM234 82h1v1h-1zM183 85h1v1h-1zM183 86h1v1h-1zM234 86h1v1h-1zM183 87h1v1h-1zM234 87h1v1h-1zM234 88h1v1h-1zM183 91h1v1h-1zM183 92h1v1h-1zM234 92h1v1h-1zM183 93h1v1h-1zM234 93h1v1h-1zM186 94h3v1h-3zM192 94h3v1h-3zM198 94h3v1h-3zM204 94h3v1h-3zM210 94h3v1h-3zM216 94h3v1h-3zM222 94h3v1h-3zM228 94h3v1h-3zM234 94h1v1h-1z" fill="#000"/>
<path d="M186 88h4v1h-4zM187 89h3v1h-3zM186 90h2v1h-2zM189 90h1v1h-1zM185 91h2v1h-2zM189 91h1v1h-1zM185 92h2v1h-2z" fill="#000"/>
<text x="192.1" y="86" font-size="11" font-weight="bold" textLength="34.1" lengthAdjust="spacingAndGlyphs">gml:id</text>
<line x1="155" y1="177.5" x2="170" y2="177.5" stroke="#000"/>
<polygon points="178.5,171.5 202.5,171.5 207.5,176.5 207.5,186.5 202.5,191.5 178.5,191.5 173.5,186.5 173.5,176.5" fill="#C0C0C0" stroke="#C0C0C0"/>
<polygon points="174.5,167.5 198.5,167.5 203.5,172.5 203.5,182.5 198.5,187.5 174.5,187.5 169.5,182.5 169.5,172.5" fill="#fff" stroke="#000"/>
<line x1="174" y1="177.5" x2="199" y2="177.5" stroke="#000"/>
<rect x="180" y="176" width="3" height="3" fill="#000"/>
<rect x="185" y="176" width="3" height="3" fill="#000"/>
<rect x="190" y="176" width="3" height="3" fill="#000"/>
<rect x="203.5" y="172.5" width="10" height="10" fill="#fff" stroke="#000"/>
<line x1="205" y1="177.5" x2="212" y2="177.5" stroke="#000"/>
<line x1="214" y1="177.5" x2="225" y2="177.5" stroke="#000"/>
<polygon points="232.5,169.5 375.5,169.5 380.5,174.5 380.5,188.5 375.5,193.5 233.5,193.5 228.5,188.5 228.5,174.5" fill="#C0C0C0" stroke="#C0C0C0"/>
<polygon points="229.5,165.5 371.5,165.5 376.5,170.5 376.5,184.5 371.5,189.5 229.5,189.5 224.5,184.5 224.5,170.5" fill="#fff" stroke="#000"/>
<text x="230" y="181" font-size="11" font-weight="normal" font-style="normal" fill="#000" textLength="142.8" lengthAdjust="spacingAndGlyphs">gml:StandardObjectProperties</text>
<rect x="376.5" y="172.5" width="10" height="10" fill="#fff" stroke="#000"/>
<line x1="378" y1="177.5" x2="385" y2="177.5" stroke="#000"/>
<line x1="387" y1="177.5" x2="402" y2="177.5" stroke="#000"/>
<polygon points="410.5,171.5 434.5,171.5 439.5,176.5 439.5,186.5 434.5,191.5 410.5,191.5 405.5,186.5 405.5,176.5" fill="#C0C0C0" stroke="#C0C0C0"/>
<polygon points="406.5,167.5 430.5,167.5 435.5,172.5 435.5,182.5 430.5,187.5 406.5,187.5 401.5,182.5 401.5,172.5" fill="#fff" stroke="#000"/>
<line x1="406" y1="177.5" x2="431" y2="177.5" stroke="#000"/>
<rect x="412" y="176" width="3" height="3" fill="#000"/>
<rect x="417" y="176" width="3" height="3" fill="#000"/>
<rect x="422" y="176" width="3" height="3" fill="#000"/>
<rect x="435.5" y="172.5" width="10" height="10" fill="#fff" stroke="#000"/>
<line x1="437" y1="177.5" x2="444" y2="177.5" stroke="#000"/>
<path d="M446 177h3v1h-3zM452 177h3v1h-3z" fill="#000"/>
<path d="M455 133h1v1h-1zM455 134h1v1h-1zM455 135h1v1h-1zM455 139h1v1h-1zM455 140h1v1h-1zM455 141h1v1h-1zM455 145h1v1h-1zM455 146h1v1h-1zM455 147h1v1h-1zM455 151h1v1h-1zM455 152h1v1h-1zM455 153h1v1h-1zM455 157h1v1h-1zM455 158h1v1h-1zM455 159h1v1h-1zM455 163h1v1h-1zM455 164h1v1h-1zM455 165h1v1h-1zM455 169h1v1h-1zM455 170h1v1h-1zM455 171h1v1h-1zM455 175h1v1h-1zM455 176h1v1h-1zM455 177h1v1h-1z" fill="#000"/>
<path d="M455 177h1v1h-1zM455 178h1v1h-1zM455 179h1v1h-1zM455 183h1v1h-1zM455 184h1v1h-1zM455 185h1v1h-1zM455 189h1v1h-1zM455 190h1v1h-1zM455 191h1v1h-1zM455 195h1v1h-1zM455 196h1v1h-1zM455 197h1v1h-1zM455 201h1v1h-1zM455 202h1v1h-1zM455 203h1v1h-1zM455 207h1v1h-1zM455 208h1v1h-1zM455 209h1v1h-1zM455 213h1v1h-1zM455 214h1v1h-1zM455 215h1v1h-1zM455 219h1v1h-1zM455 220h1v1h-1zM455 221h1v1h-1z" fill="#000"/>
<text x="228.9" y="205" font-size="9.5" fill="#7E7E7E" textLength="142.50" lengthAdjust="spacing">This content model group makes it</text>
<text x="228.9" y="216" font-size="9.5" fill="#7E7E7E" textLength="120.50" lengthAdjust="spacing">easier to construct types that</text>
<text x="246.9" y="227" font-size="9.5" fill="#7E7E7E" textLength="126.50" lengthAdjust="spacing">derive from AbstractGMLType</text>
<text x="228.9" y="238" font-size="9.5" fill="#7E7E7E" textLength="146.50" lengthAdjust="spacing">and its descendents &quot;by restriction&quot;.</text>
<text x="247.9" y="249" font-size="9.5" fill="#7E7E7E" textLength="127.50" lengthAdjust="spacing">A reference to the group saves</text>
<text x="228.9" y="260" font-size="9.5" fill="#7E7E7E" textLength="140.50" lengthAdjust="spacing">having to enumerate the standard</text>
<text x="228.9" y="271" font-size="9.5" fill="#7E7E7E" textLength="71.50" lengthAdjust="spacing">object properties.</text>
<path d="M455 130h3v1h-3zM461 130h3v1h-3zM467 130h3v1h-3z" fill="#000"/>
<rect x="477" y="125" width="140" height="25" fill="#C0C0C0"/>
<rect x="473" y="121" width="140" height="25" fill="#fff"/>
<path d="M473 121h2v1h-2zM478 121h3v1h-3zM484 121h3v1h-3zM490 121h3v1h-3zM496 121h3v1h-3zM502 121h3v1h-3zM508 121h3v1h-3zM514 121h3v1h-3zM520 121h3v1h-3zM526 121h3v1h-3zM532 121h3v1h-3zM538 121h3v1h-3zM544 121h3v1h-3zM550 121h3v1h-3zM556 121h3v1h-3zM562 121h3v1h-3zM568 121h3v1h-3zM574 121h3v1h-3zM580 121h3v1h-3zM586 121h3v1h-3zM592 121h3v1h-3zM598 121h3v1h-3zM604 121h3v1h-3zM610 121h3v1h-3zM473 122h1v1h-1zM612 122h1v1h-1zM612 123h1v1h-1zM473 126h1v1h-1zM473 127h1v1h-1zM612 127h1v1h-1zM473 128h1v1h-1zM612 128h1v1h-1zM612 129h1v1h-1zM473 132h1v1h-1zM473 133h1v1h-1zM612 133h1v1h-1zM473 134h1v1h-1zM612 134h1v1h-1zM612 135h1v1h-1zM473 138h1v1h-1zM473 139h1v1h-1zM612 139h1v1h-1zM473 140h1v1h-1zM612 140h1v1h-1zM612 141h1v1h-1zM473 144h1v1h-1zM473 145h2v1h-2zM478 145h3v1h-3zM484 145h3v1h-3zM490 145h3v1h-3zM496 145h3v1h-3zM502 145h3v1h-3zM508 145h3v1h-3zM514 145h3v1h-3zM520 145h3v1h-3zM526 145h3v1h-3zM532 145h3v1h-3zM538 145h3v1h-3zM544 145h3v1h-3zM550 145h3v1h-3zM556 145h3v1h-3zM562 145h3v1h-3zM568 145h3v1h-3zM574 145h3v1h-3zM580 145h3v1h-3zM586 145h3v1h-3zM592 145h3v1h-3zM598 145h3v1h-3zM604 145h3v1h-3zM610 145h3v1h-3z" fill="#000"/>
<rect x="470" y="118" width="140" height="25" fill="#fff"/>
<path d="M470 118h2v1h-2zM475 118h3v1h-3zM481 118h3v1h-3zM487 118h3v1h-3zM493 118h3v1h-3zM499 118h3v1h-3zM505 118h3v1h-3zM511 118h3v1h-3zM517 118h3v1h-3zM523 118h3v1h-3zM529 118h3v1h-3zM535 118h3v1h-3zM541 118h3v1h-3zM547 118h3v1h-3zM553 118h3v1h-3zM559 118h3v1h-3zM565 118h3v1h-3zM571 118h3v1h-3zM577 118h3v1h-3zM583 118h3v1h-3zM589 118h3v1h-3zM595 118h3v1h-3zM601 118h3v1h-3zM607 118h3v1h-3zM470 119h1v1h-1zM609 119h1v1h-1zM609 120h1v1h-1zM470 123h1v1h-1zM470 124h1v1h-1zM609 124h1v1h-1zM470 125h1v1h-1zM609 125h1v1h-1zM609 126h1v1h-1zM470 129h1v1h-1zM470 130h1v1h-1zM609 130h1v1h-1zM470 131h1v1h-1zM609 131h1v1h-1zM609 132h1v1h-1zM470 135h1v1h-1zM470 136h1v1h-1zM609 136h1v1h-1zM470 137h1v1h-1zM609 137h1v1h-1zM609 138h1v1h-1zM470 141h1v1h-1zM470 142h2v1h-2zM475 142h3v1h-3zM481 142h3v1h-3zM487 142h3v1h-3zM493 142h3v1h-3zM499 142h3v1h-3zM505 142h3v1h-3zM511 142h3v1h-3zM517 142h3v1h-3zM523 142h3v1h-3zM529 142h3v1h-3zM535 142h3v1h-3zM541 142h3v1h-3zM547 142h3v1h-3zM553 142h3v1h-3zM559 142h3v1h-3zM565 142h3v1h-3zM571 142h3v1h-3zM577 142h3v1h-3zM583 142h3v1h-3zM589 142h3v1h-3zM595 142h3v1h-3zM601 142h3v1h-3zM607 142h3v1h-3z" fill="#000"/>
<rect x="594" y="143" width="1" height="1" fill="#000"/>
<rect x="595" y="144" width="2" height="2" fill="#000"/>
<rect x="597" y="146" width="1" height="1" fill="#fff"/>
<rect x="598" y="147" width="1" height="1" fill="#fff"/>
<rect x="599" y="148" width="1" height="1" fill="#fff"/>
<rect x="600" y="149" width="1" height="1" fill="#000"/>
<rect x="601" y="148" width="1" height="1" fill="#000"/>
<rect x="602" y="147" width="1" height="1" fill="#000"/>
<path d="M473 136h4v1h-4zM474 137h3v1h-3zM473 138h2v1h-2zM476 138h1v1h-1zM472 139h2v1h-2zM476 139h1v1h-1zM472 140h2v1h-2z" fill="#000"/>
<text x="479.1" y="134" font-size="11" font-weight="bold" textLength="124.1" lengthAdjust="spacingAndGlyphs">gml:metaDataProperty</text>
<text x="583.4" y="160" font-size="11" fill="#000" textLength="10.6" lengthAdjust="spacingAndGlyphs">0..</text>
<text x="594.6" y="160" font-size="12.5" fill="#000" textLength="9" lengthAdjust="spacingAndGlyphs">∞</text>
<path d="M455 187h3v1h-3zM461 187h3v1h-3zM467 187h3v1h-3z" fill="#000"/>
<rect x="474" y="179" width="103" height="25" fill="#C0C0C0"/>
<rect x="470" y="175" width="103" height="25" fill="#fff"/>
<path d="M470 175h1v1h-1zM474 175h3v1h-3zM480 175h3v1h-3zM486 175h3v1h-3zM492 175h3v1h-3zM498 175h3v1h-3zM504 175h3v1h-3zM510 175h3v1h-3zM516 175h3v1h-3zM522 175h3v1h-3zM528 175h3v1h-3zM534 175h3v1h-3zM540 175h3v1h-3zM546 175h3v1h-3zM552 175h3v1h-3zM558 175h3v1h-3zM564 175h3v1h-3zM570 175h3v1h-3zM470 176h1v1h-1zM470 177h1v1h-1zM572 179h1v1h-1zM572 180h1v1h-1zM470 181h1v1h-1zM572 181h1v1h-1zM470 182h1v1h-1zM470 183h1v1h-1zM572 185h1v1h-1zM572 186h1v1h-1zM470 187h1v1h-1zM572 187h1v1h-1zM470 188h1v1h-1zM470 189h1v1h-1zM572 191h1v1h-1zM572 192h1v1h-1zM470 193h1v1h-1zM572 193h1v1h-1zM470 194h1v1h-1zM470 195h1v1h-1zM572 197h1v1h-1zM572 198h1v1h-1zM470 199h3v1h-3zM476 199h3v1h-3zM482 199h3v1h-3zM488 199h3v1h-3zM494 199h3v1h-3zM500 199h3v1h-3zM506 199h3v1h-3zM512 199h3v1h-3zM518 199h3v1h-3zM524 199h3v1h-3zM530 199h3v1h-3zM536 199h3v1h-3zM542 199h3v1h-3zM548 199h3v1h-3zM554 199h3v1h-3zM560 199h3v1h-3zM566 199h3v1h-3zM572 199h1v1h-1z" fill="#000"/>
<path d="M473 193h4v1h-4zM474 194h3v1h-3zM473 195h2v1h-2zM476 195h1v1h-1zM472 196h2v1h-2zM476 196h1v1h-1zM472 197h2v1h-2z" fill="#000"/>
<text x="479.1" y="191" font-size="11" font-weight="bold" textLength="87.1" lengthAdjust="spacingAndGlyphs">gml:description</text>
<path d="M455 224h3v1h-3zM461 224h3v1h-3zM467 224h3v1h-3z" fill="#000"/>
<rect x="477" y="219" width="71" height="25" fill="#C0C0C0"/>
<rect x="473" y="215" width="71" height="25" fill="#fff"/>
<path d="M475 215h3v1h-3zM481 215h3v1h-3zM487 215h3v1h-3zM493 215h3v1h-3zM499 215h3v1h-3zM505 215h3v1h-3zM511 215h3v1h-3zM517 215h3v1h-3zM523 215h3v1h-3zM529 215h3v1h-3zM535 215h3v1h-3zM541 215h3v1h-3zM543 216h1v1h-1zM473 217h1v1h-1zM543 217h1v1h-1zM473 218h1v1h-1zM473 219h1v1h-1zM543 221h1v1h-1zM543 222h1v1h-1zM473 223h1v1h-1zM543 223h1v1h-1zM473 224h1v1h-1zM473 225h1v1h-1zM543 227h1v1h-1zM543 228h1v1h-1zM473 229h1v1h-1zM543 229h1v1h-1zM473 230h1v1h-1zM473 231h1v1h-1zM543 233h1v1h-1zM543 234h1v1h-1zM473 235h1v1h-1zM543 235h1v1h-1zM473 236h1v1h-1zM473 237h1v1h-1zM475 239h3v1h-3zM481 239h3v1h-3zM487 239h3v1h-3zM493 239h3v1h-3zM499 239h3v1h-3zM505 239h3v1h-3zM511 239h3v1h-3zM517 239h3v1h-3zM523 239h3v1h-3zM529 239h3v1h-3zM535 239h3v1h-3zM541 239h3v1h-3z" fill="#000"/>
<rect x="470" y="212" width="71" height="25" fill="#fff"/>
<path d="M472 212h3v1h-3zM478 212h3v1h-3zM484 212h3v1h-3zM490 212h3v1h-3zM496 212h3v1h-3zM502 212h3v1h-3zM508 212h3v1h-3zM514 212h3v1h-3zM520 212h3v1h-3zM526 212h3v1h-3zM532 212h3v1h-3zM538 212h3v1h-3zM540 213h1v1h-1zM470 214h1v1h-1zM540 214h1v1h-1zM470 215h1v1h-1zM470 216h1v1h-1zM540 218h1v1h-1zM540 219h1v1h-1zM470 220h1v1h-1zM540 220h1v1h-1zM470 221h1v1h-1zM470 222h1v1h-1zM540 224h1v1h-1zM540 225h1v1h-1zM470 226h1v1h-1zM540 226h1v1h-1zM470 227h1v1h-1zM470 228h1v1h-1zM540 230h1v1h-1zM540 231h1v1h-1zM470 232h1v1h-1zM540 232h1v1h-1zM470 233h1v1h-1zM470 234h1v1h-1zM472 236h3v1h-3zM478 236h3v1h-3zM484 236h3v1h-3zM490 236h3v1h-3zM496 236h3v1h-3zM502 236h3v1h-3zM508 236h3v1h-3zM514 236h3v1h-3zM520 236h3v1h-3zM526 236h3v1h-3zM532 236h3v1h-3zM538 236h3v1h-3z" fill="#000"/>
<rect x="526" y="237" width="1" height="1" fill="#000"/>
<rect x="527" y="238" width="2" height="2" fill="#000"/>
<rect x="529" y="240" width="1" height="1" fill="#fff"/>
<rect x="530" y="241" width="1" height="1" fill="#fff"/>
<rect x="531" y="242" width="1" height="1" fill="#fff"/>
<rect x="532" y="243" width="1" height="1" fill="#000"/>
<rect x="533" y="242" width="1" height="1" fill="#000"/>
<rect x="534" y="241" width="1" height="1" fill="#000"/>
<path d="M473 230h4v1h-4zM474 231h3v1h-3zM473 232h2v1h-2zM476 232h1v1h-1zM472 233h2v1h-2zM476 233h1v1h-1zM472 234h2v1h-2z" fill="#000"/>
<text x="479.1" y="228" font-size="11" font-weight="bold" textLength="55.1" lengthAdjust="spacingAndGlyphs">gml:name</text>
<text x="515.4" y="254" font-size="11" fill="#000" textLength="10.6" lengthAdjust="spacingAndGlyphs">0..</text>
<text x="526.6" y="254" font-size="12.5" fill="#000" textLength="9" lengthAdjust="spacingAndGlyphs">∞</text>
<text x="474.9" y="269" font-size="9.5" fill="#7E7E7E" textLength="97.50" lengthAdjust="spacing">Multiple names may be</text>
<text x="474.9" y="280" font-size="9.5" fill="#7E7E7E" textLength="111.50" lengthAdjust="spacing">provided.  These will often</text>
<text x="474.9" y="291" font-size="9.5" fill="#7E7E7E" textLength="104.50" lengthAdjust="spacing">be distinguished by being</text>
<text x="474.9" y="302" font-size="9.5" fill="#7E7E7E" textLength="86.50" lengthAdjust="spacing">assigned by different</text>
<text x="474.9" y="313" font-size="9.5" fill="#7E7E7E" textLength="110.50" lengthAdjust="spacing">authorities, as indicated by</text>
<text x="474.9" y="324" font-size="9.5" fill="#7E7E7E" textLength="113.50" lengthAdjust="spacing">the value of the codeSpace</text>
<text x="474.9" y="335" font-size="9.5" fill="#7E7E7E" textLength="101.50" lengthAdjust="spacing">attribute.  In an instance</text>
<text x="474.9" y="346" font-size="9.5" fill="#7E7E7E" textLength="113.50" lengthAdjust="spacing">document there will usually</text>
<text x="474.9" y="357" font-size="9.5" fill="#7E7E7E" textLength="91.50" lengthAdjust="spacing">only be one name per</text>
<text x="474.9" y="368" font-size="9.5" fill="#7E7E7E" textLength="40.50" lengthAdjust="spacing">authority.</text>
<line x1="155" y1="392.5" x2="170" y2="392.5" stroke="#000"/>
<polygon points="178.5,386.5 202.5,386.5 207.5,391.5 207.5,401.5 202.5,406.5 178.5,406.5 173.5,401.5 173.5,391.5" fill="#C0C0C0" stroke="#C0C0C0"/>
<polygon points="174.5,382.5 198.5,382.5 203.5,387.5 203.5,397.5 198.5,402.5 174.5,402.5 169.5,397.5 169.5,387.5" fill="#fff" stroke="#000"/>
<line x1="174" y1="392.5" x2="199" y2="392.5" stroke="#000"/>
<rect x="180" y="391" width="3" height="3" fill="#000"/>
<rect x="185" y="391" width="3" height="3" fill="#000"/>
<rect x="190" y="391" width="3" height="3" fill="#000"/>
<line x1="155" y1="756.5" x2="170" y2="756.5" stroke="#000"/>
<polygon points="178.5,750.5 202.5,750.5 207.5,755.5 207.5,765.5 202.5,770.5 178.5,770.5 173.5,765.5 173.5,755.5" fill="#C0C0C0" stroke="#C0C0C0"/>
<polygon points="174.5,746.5 198.5,746.5 203.5,751.5 203.5,761.5 198.5,766.5 174.5,766.5 169.5,761.5 169.5,751.5" fill="#fff" stroke="#000"/>
<line x1="174" y1="756.5" x2="199" y2="756.5" stroke="#000"/>
<rect x="180" y="755" width="3" height="3" fill="#000"/>
<rect x="185" y="755" width="3" height="3" fill="#000"/>
<rect x="190" y="755" width="3" height="3" fill="#000"/>
<rect x="203.5" y="751.5" width="10" height="10" fill="#fff" stroke="#000"/>
<line x1="205" y1="756.5" x2="212" y2="756.5" stroke="#000"/>
<line x1="214" y1="756.5" x2="224" y2="756.5" stroke="#000"/>
<path d="M223 430h1v1h-1zM223 431h1v1h-1zM223 432h1v1h-1zM223 436h1v1h-1zM223 437h1v1h-1zM223 438h1v1h-1zM223 442h1v1h-1zM223 443h1v1h-1zM223 444h1v1h-1zM223 448h1v1h-1zM223 449h1v1h-1zM223 450h1v1h-1zM223 454h1v1h-1zM223 455h1v1h-1zM223 456h1v1h-1zM223 460h1v1h-1zM223 461h1v1h-1zM223 462h1v1h-1zM223 466h1v1h-1zM223 467h1v1h-1zM223 468h1v1h-1zM223 472h1v1h-1zM223 473h1v1h-1zM223 474h1v1h-1zM223 478h1v1h-1zM223 479h1v1h-1zM223 480h1v1h-1zM223 484h1v1h-1zM223 485h1v1h-1zM223 486h1v1h-1zM223 490h1v1h-1zM223 491h1v1h-1zM223 492h1v1h-1zM223 496h1v1h-1zM223 497h1v1h-1zM223 498h1v1h-1zM223 502h1v1h-1zM223 503h1v1h-1zM223 504h1v1h-1zM223 508h1v1h-1zM223 509h1v1h-1zM223 510h1v1h-1zM223 514h1v1h-1zM223 515h1v1h-1zM223 516h1v1h-1zM223 520h1v1h-1zM223 521h1v1h-1zM223 522h1v1h-1zM223 526h1v1h-1zM223 527h1v1h-1zM223 528h1v1h-1zM223 532h1v1h-1zM223 533h1v1h-1zM223 534h1v1h-1zM223 538h1v1h-1zM223 539h1v1h-1zM223 540h1v1h-1zM223 544h1v1h-1zM223 545h1v1h-1zM223 546h1v1h-1zM223 550h1v1h-1zM223 551h1v1h-1zM223 552h1v1h-1zM223 556h1v1h-1zM223 557h1v1h-1zM223 558h1v1h-1zM223 562h1v1h-1zM223 563h1v1h-1zM223 564h1v1h-1zM223 568h1v1h-1zM223 569h1v1h-1zM223 570h1v1h-1zM223 574h1v1h-1zM223 575h1v1h-1zM223 576h1v1h-1zM223 580h1v1h-1zM223 581h1v1h-1zM223 582h1v1h-1zM223 586h1v1h-1zM223 587h1v1h-1zM223 588h1v1h-1zM223 592h1v1h-1zM223 593h1v1h-1zM223 594h1v1h-1zM223 598h1v1h-1zM223 599h1v1h-1zM223 600h1v1h-1zM223 604h1v1h-1zM223 605h1v1h-1zM223 606h1v1h-1zM223 610h1v1h-1zM223 611h1v1h-1zM223 612h1v1h-1zM223 616h1v1h-1zM223 617h1v1h-1zM223 618h1v1h-1zM223 622h1v1h-1zM223 623h1v1h-1zM223 624h1v1h-1zM223 628h1v1h-1zM223 629h1v1h-1zM223 630h1v1h-1zM223 634h1v1h-1zM223 635h1v1h-1zM223 636h1v1h-1zM223 640h1v1h-1zM223 641h1v1h-1zM223 642h1v1h-1zM223 646h1v1h-1zM223 647h1v1h-1zM223 648h1v1h-1zM223 652h1v1h-1zM223 653h1v1h-1zM223 654h1v1h-1zM223 658h1v1h-1zM223 659h1v1h-1zM223 660h1v1h-1zM223 664h1v1h-1zM223 665h1v1h-1zM223 666h1v1h-1zM223 670h1v1h-1zM223 671h1v1h-1zM223 672h1v1h-1zM223 676h1v1h-1zM223 677h1v1h-1zM223 678h1v1h-1zM223 682h1v1h-1zM223 683h1v1h-1zM223 684h1v1h-1zM223 688h1v1h-1zM223 689h1v1h-1zM223 690h1v1h-1zM223 694h1v1h-1zM223 695h1v1h-1zM223 696h1v1h-1zM223 700h1v1h-1zM223 701h1v1h-1zM223 702h1v1h-1zM223 706h1v1h-1zM223 707h1v1h-1zM223 708h1v1h-1zM223 712h1v1h-1zM223 713h1v1h-1zM223 714h1v1h-1zM223 718h1v1h-1zM223 719h1v1h-1zM223 720h1v1h-1zM223 724h1v1h-1zM223 725h1v1h-1zM223 726h1v1h-1zM223 730h1v1h-1zM223 731h1v1h-1zM223 732h1v1h-1zM223 736h1v1h-1zM223 737h1v1h-1zM223 738h1v1h-1zM223 742h1v1h-1zM223 743h1v1h-1zM223 744h1v1h-1zM223 748h1v1h-1zM223 749h1v1h-1zM223 750h1v1h-1zM223 754h1v1h-1zM223 755h1v1h-1zM223 756h1v1h-1z" fill="#000"/>
<line x1="223.5" y1="756" x2="223.5" y2="934" stroke="#000"/>
<path d="M223 933h1v1h-1zM223 934h1v1h-1zM223 935h1v1h-1zM223 939h1v1h-1zM223 940h1v1h-1zM223 941h1v1h-1zM223 945h1v1h-1zM223 946h1v1h-1zM223 947h1v1h-1zM223 951h1v1h-1zM223 952h1v1h-1zM223 953h1v1h-1zM223 957h1v1h-1zM223 958h1v1h-1zM223 959h1v1h-1zM223 963h1v1h-1zM223 964h1v1h-1zM223 965h1v1h-1zM223 969h1v1h-1zM223 970h1v1h-1zM223 971h1v1h-1zM223 975h1v1h-1zM223 976h1v1h-1zM223 977h1v1h-1zM223 981h1v1h-1zM223 982h1v1h-1zM223 983h1v1h-1zM223 987h1v1h-1zM223 988h1v1h-1zM223 989h1v1h-1zM223 993h1v1h-1zM223 994h1v1h-1zM223 995h1v1h-1zM223 999h1v1h-1zM223 1000h1v1h-1zM223 1001h1v1h-1zM223 1005h1v1h-1zM223 1006h1v1h-1zM223 1007h1v1h-1zM223 1011h1v1h-1zM223 1012h1v1h-1zM223 1013h1v1h-1zM223 1017h1v1h-1zM223 1018h1v1h-1zM223 1019h1v1h-1zM223 1023h1v1h-1zM223 1024h1v1h-1zM223 1025h1v1h-1zM223 1029h1v1h-1zM223 1030h1v1h-1zM223 1031h1v1h-1zM223 1035h1v1h-1zM223 1036h1v1h-1zM223 1037h1v1h-1zM223 1041h1v1h-1zM223 1042h1v1h-1zM223 1043h1v1h-1zM223 1047h1v1h-1zM223 1048h1v1h-1zM223 1049h1v1h-1zM223 1053h1v1h-1zM223 1054h1v1h-1zM223 1055h1v1h-1zM223 1059h1v1h-1zM223 1060h1v1h-1zM223 1061h1v1h-1zM223 1065h1v1h-1zM223 1066h1v1h-1zM223 1067h1v1h-1zM223 1071h1v1h-1zM223 1072h1v1h-1zM223 1073h1v1h-1zM223 1077h1v1h-1zM223 1078h1v1h-1zM223 1079h1v1h-1zM223 1083h1v1h-1zM223 1084h1v1h-1zM223 1085h1v1h-1z" fill="#000"/>
<path d="M223 427h3v1h-3zM229 427h3v1h-3zM235 427h3v1h-3z" fill="#000"/>
<rect x="245" y="422" width="102" height="25" fill="#C0C0C0"/>
<rect x="241" y="418" width="102" height="25" fill="#fff"/>
<path d="M244 418h3v1h-3zM250 418h3v1h-3zM256 418h3v1h-3zM262 418h3v1h-3zM268 418h3v1h-3zM274 418h3v1h-3zM280 418h3v1h-3zM286 418h3v1h-3zM292 418h3v1h-3zM298 418h3v1h-3zM304 418h3v1h-3zM310 418h3v1h-3zM316 418h3v1h-3zM322 418h3v1h-3zM328 418h3v1h-3zM334 418h3v1h-3zM340 418h3v1h-3zM241 419h1v1h-1zM241 420h1v1h-1zM342 420h1v1h-1zM241 421h1v1h-1zM342 421h1v1h-1zM342 422h1v1h-1zM241 425h1v1h-1zM241 426h1v1h-1zM342 426h1v1h-1zM241 427h1v1h-1zM342 427h1v1h-1zM342 428h1v1h-1zM241 431h1v1h-1zM241 432h1v1h-1zM342 432h1v1h-1zM241 433h1v1h-1zM342 433h1v1h-1zM342 434h1v1h-1zM241 437h1v1h-1zM241 438h1v1h-1zM342 438h1v1h-1zM241 439h1v1h-1zM342 439h1v1h-1zM342 440h1v1h-1zM242 442h3v1h-3zM248 442h3v1h-3zM254 442h3v1h-3zM260 442h3v1h-3zM266 442h3v1h-3zM272 442h3v1h-3zM278 442h3v1h-3zM284 442h3v1h-3zM290 442h3v1h-3zM296 442h3v1h-3zM302 442h3v1h-3zM308 442h3v1h-3zM314 442h3v1h-3zM320 442h3v1h-3zM326 442h3v1h-3zM332 442h3v1h-3zM338 442h3v1h-3z" fill="#000"/>
<rect x="238" y="415" width="102" height="25" fill="#fff"/>
<path d="M241 415h3v1h-3zM247 415h3v1h-3zM253 415h3v1h-3zM259 415h3v1h-3zM265 415h3v1h-3zM271 415h3v1h-3zM277 415h3v1h-3zM283 415h3v1h-3zM289 415h3v1h-3zM295 415h3v1h-3zM301 415h3v1h-3zM307 415h3v1h-3zM313 415h3v1h-3zM319 415h3v1h-3zM325 415h3v1h-3zM331 415h3v1h-3zM337 415h3v1h-3zM238 416h1v1h-1zM238 417h1v1h-1zM339 417h1v1h-1zM238 418h1v1h-1zM339 418h1v1h-1zM339 419h1v1h-1zM238 422h1v1h-1zM238 423h1v1h-1zM339 423h1v1h-1zM238 424h1v1h-1zM339 424h1v1h-1zM339 425h1v1h-1zM238 428h1v1h-1zM238 429h1v1h-1zM339 429h1v1h-1zM238 430h1v1h-1zM339 430h1v1h-1zM339 431h1v1h-1zM238 434h1v1h-1zM238 435h1v1h-1zM339 435h1v1h-1zM238 436h1v1h-1zM339 436h1v1h-1zM339 437h1v1h-1zM239 439h3v1h-3zM245 439h3v1h-3zM251 439h3v1h-3zM257 439h3v1h-3zM263 439h3v1h-3zM269 439h3v1h-3zM275 439h3v1h-3zM281 439h3v1h-3zM287 439h3v1h-3zM293 439h3v1h-3zM299 439h3v1h-3zM305 439h3v1h-3zM311 439h3v1h-3zM317 439h3v1h-3zM323 439h3v1h-3zM329 439h3v1h-3zM335 439h3v1h-3z" fill="#000"/>
<rect x="325" y="440" width="1" height="1" fill="#000"/>
<rect x="326" y="441" width="2" height="2" fill="#000"/>
<rect x="328" y="443" width="1" height="1" fill="#fff"/>
<rect x="329" y="444" width="1" height="1" fill="#fff"/>
<rect x="330" y="445" width="1" height="1" fill="#fff"/>
<rect x="331" y="446" width="1" height="1" fill="#000"/>
<rect x="332" y="445" width="1" height="1" fill="#000"/>
<rect x="333" y="444" width="1" height="1" fill="#000"/>
<text x="247.1" y="431" font-size="11" font-weight="bold" textLength="86.1" lengthAdjust="spacingAndGlyphs"><tspan fill="#808080">kanta:</tspan><tspan fill="#000">metatieto</tspan></text>
<text x="314.4" y="457" font-size="11" fill="#000" textLength="10.6" lengthAdjust="spacingAndGlyphs">0..</text>
<text x="325.6" y="457" font-size="12.5" fill="#000" textLength="9" lengthAdjust="spacingAndGlyphs">∞</text>
<text x="242.9" y="472" font-size="9.5" fill="#7E7E7E" textLength="84.50" lengthAdjust="spacing">Kohteen metatiedot.</text>
<text x="242.9" y="483" font-size="9.5" fill="#7E7E7E" textLength="108.50" lengthAdjust="spacing">Suositeltavat kentät ovat:</text>
<text x="242.9" y="494" font-size="9.5" fill="#7E7E7E" textLength="94.50" lengthAdjust="spacing">sijaintitiedonluontitapa,</text>
<text x="242.9" y="505" font-size="9.5" fill="#7E7E7E" textLength="91.50" lengthAdjust="spacing">tarkkuus, datan_luoja,</text>
<text x="242.9" y="516" font-size="9.5" fill="#7E7E7E" textLength="101.50" lengthAdjust="spacing">luonti_pvm, muokkaaja,</text>
<text x="242.9" y="527" font-size="9.5" fill="#7E7E7E" textLength="110.50" lengthAdjust="spacing">muokkaus_pvm, omistaja,</text>
<text x="242.9" y="538" font-size="9.5" fill="#7E7E7E" textLength="57.50" lengthAdjust="spacing">lahteen_pvm,</text>
<text x="242.9" y="549" font-size="9.5" fill="#7E7E7E" textLength="111.50" lengthAdjust="spacing">lahteen_tyyppi, mittausera,</text>
<text x="242.9" y="560" font-size="9.5" fill="#7E7E7E" textLength="58.50" lengthAdjust="spacing">lisatieto_linkki</text>
<path d="M223 586h3v1h-3zM229 586h3v1h-3zM235 586h3v1h-3z" fill="#000"/>
<rect x="242" y="578" width="88" height="25" fill="#C0C0C0"/>
<rect x="238" y="574" width="88" height="25" fill="#fff"/>
<path d="M239 574h3v1h-3zM245 574h3v1h-3zM251 574h3v1h-3zM257 574h3v1h-3zM263 574h3v1h-3zM269 574h3v1h-3zM275 574h3v1h-3zM281 574h3v1h-3zM287 574h3v1h-3zM293 574h3v1h-3zM299 574h3v1h-3zM305 574h3v1h-3zM311 574h3v1h-3zM317 574h3v1h-3zM323 574h3v1h-3zM238 577h1v1h-1zM238 578h1v1h-1zM325 578h1v1h-1zM238 579h1v1h-1zM325 579h1v1h-1zM325 580h1v1h-1zM238 583h1v1h-1zM238 584h1v1h-1zM325 584h1v1h-1zM238 585h1v1h-1zM325 585h1v1h-1zM325 586h1v1h-1zM238 589h1v1h-1zM238 590h1v1h-1zM325 590h1v1h-1zM238 591h1v1h-1zM325 591h1v1h-1zM325 592h1v1h-1zM238 595h1v1h-1zM238 596h1v1h-1zM325 596h1v1h-1zM238 597h1v1h-1zM325 597h1v1h-1zM241 598h3v1h-3zM247 598h3v1h-3zM253 598h3v1h-3zM259 598h3v1h-3zM265 598h3v1h-3zM271 598h3v1h-3zM277 598h3v1h-3zM283 598h3v1h-3zM289 598h3v1h-3zM295 598h3v1h-3zM301 598h3v1h-3zM307 598h3v1h-3zM313 598h3v1h-3zM319 598h3v1h-3zM325 598h1v1h-1z" fill="#000"/>
<rect x="240" y="576" width="6" height="1" fill="#000"/>
<rect x="240" y="578" width="5" height="1" fill="#000"/>
<rect x="240" y="580" width="5" height="1" fill="#000"/>
<text x="247.1" y="590" font-size="11" font-weight="bold" textLength="72.1" lengthAdjust="spacingAndGlyphs"><tspan fill="#808080">kanta:</tspan><tspan fill="#000">tunnus</tspan></text>
<text x="242.9" y="614" font-size="9.5" fill="#7E7E7E" textLength="70.50" lengthAdjust="spacing">Kyseessä olevan</text>
<text x="242.9" y="625" font-size="9.5" fill="#7E7E7E" textLength="76.50" lengthAdjust="spacing">kantakartan sisällä</text>
<text x="242.9" y="636" font-size="9.5" fill="#7E7E7E" textLength="97.50" lengthAdjust="spacing">yksikäsitteinen kohteen</text>
<text x="242.9" y="647" font-size="9.5" fill="#7E7E7E" textLength="53.50" lengthAdjust="spacing">tunnistetieto.</text>
<path d="M223 673h3v1h-3zM229 673h3v1h-3zM235 673h3v1h-3z" fill="#000"/>
<rect x="242" y="665" width="97" height="25" fill="#C0C0C0"/>
<rect x="238" y="661" width="97" height="25" fill="#fff"/>
<path d="M238 661h1v1h-1zM242 661h3v1h-3zM248 661h3v1h-3zM254 661h3v1h-3zM260 661h3v1h-3zM266 661h3v1h-3zM272 661h3v1h-3zM278 661h3v1h-3zM284 661h3v1h-3zM290 661h3v1h-3zM296 661h3v1h-3zM302 661h3v1h-3zM308 661h3v1h-3zM314 661h3v1h-3zM320 661h3v1h-3zM326 661h3v1h-3zM332 661h3v1h-3zM238 662h1v1h-1zM238 663h1v1h-1zM334 665h1v1h-1zM334 666h1v1h-1zM238 667h1v1h-1zM334 667h1v1h-1zM238 668h1v1h-1zM238 669h1v1h-1zM334 671h1v1h-1zM334 672h1v1h-1zM238 673h1v1h-1zM334 673h1v1h-1zM238 674h1v1h-1zM238 675h1v1h-1zM334 677h1v1h-1zM334 678h1v1h-1zM238 679h1v1h-1zM334 679h1v1h-1zM238 680h1v1h-1zM238 681h1v1h-1zM334 683h1v1h-1zM334 684h1v1h-1zM238 685h3v1h-3zM244 685h3v1h-3zM250 685h3v1h-3zM256 685h3v1h-3zM262 685h3v1h-3zM268 685h3v1h-3zM274 685h3v1h-3zM280 685h3v1h-3zM286 685h3v1h-3zM292 685h3v1h-3zM298 685h3v1h-3zM304 685h3v1h-3zM310 685h3v1h-3zM316 685h3v1h-3zM322 685h3v1h-3zM328 685h3v1h-3zM334 685h1v1h-1z" fill="#000"/>
<rect x="240" y="663" width="6" height="1" fill="#000"/>
<rect x="240" y="665" width="5" height="1" fill="#000"/>
<rect x="240" y="667" width="5" height="1" fill="#000"/>
<text x="247.1" y="677" font-size="11" font-weight="bold" textLength="81.1" lengthAdjust="spacingAndGlyphs"><tspan fill="#808080">kanta:</tspan><tspan fill="#000">kplkoodi</tspan></text>
<text x="242.9" y="701" font-size="9.5" fill="#7E7E7E" textLength="68.50" lengthAdjust="spacing">Kohteen Kuntien</text>
<text x="242.9" y="712" font-size="9.5" fill="#7E7E7E" textLength="113.50" lengthAdjust="spacing">Paikkaitietoluokituksen(KPL</text>
<text x="242.9" y="723" font-size="9.5" fill="#7E7E7E" textLength="88.50" lengthAdjust="spacing">2.3)) mukainen koodi</text>
<path d="M223 749h3v1h-3zM229 749h3v1h-3zM235 749h3v1h-3z" fill="#000"/>
<rect x="242" y="741" width="124" height="25" fill="#C0C0C0"/>
<rect x="238" y="737" width="124" height="25" fill="#fff"/>
<path d="M239 737h3v1h-3zM245 737h3v1h-3zM251 737h3v1h-3zM257 737h3v1h-3zM263 737h3v1h-3zM269 737h3v1h-3zM275 737h3v1h-3zM281 737h3v1h-3zM287 737h3v1h-3zM293 737h3v1h-3zM299 737h3v1h-3zM305 737h3v1h-3zM311 737h3v1h-3zM317 737h3v1h-3zM323 737h3v1h-3zM329 737h3v1h-3zM335 737h3v1h-3zM341 737h3v1h-3zM347 737h3v1h-3zM353 737h3v1h-3zM359 737h3v1h-3zM238 740h1v1h-1zM238 741h1v1h-1zM361 741h1v1h-1zM238 742h1v1h-1zM361 742h1v1h-1zM361 743h1v1h-1zM238 746h1v1h-1zM238 747h1v1h-1zM361 747h1v1h-1zM238 748h1v1h-1zM361 748h1v1h-1zM361 749h1v1h-1zM238 752h1v1h-1zM238 753h1v1h-1zM361 753h1v1h-1zM238 754h1v1h-1zM361 754h1v1h-1zM361 755h1v1h-1zM238 758h1v1h-1zM238 759h1v1h-1zM361 759h1v1h-1zM238 760h1v1h-1zM361 760h1v1h-1zM241 761h3v1h-3zM247 761h3v1h-3zM253 761h3v1h-3zM259 761h3v1h-3zM265 761h3v1h-3zM271 761h3v1h-3zM277 761h3v1h-3zM283 761h3v1h-3zM289 761h3v1h-3zM295 761h3v1h-3zM301 761h3v1h-3zM307 761h3v1h-3zM313 761h3v1h-3zM319 761h3v1h-3zM325 761h3v1h-3zM331 761h3v1h-3zM337 761h3v1h-3zM343 761h3v1h-3zM349 761h3v1h-3zM355 761h3v1h-3zM361 761h1v1h-1z" fill="#000"/>
<rect x="240" y="739" width="6" height="1" fill="#000"/>
<rect x="240" y="741" width="5" height="1" fill="#000"/>
<rect x="240" y="743" width="5" height="1" fill="#000"/>
<text x="247.1" y="753" font-size="11" font-weight="bold" textLength="108.1" lengthAdjust="spacingAndGlyphs"><tspan fill="#808080">kanta:</tspan><tspan fill="#000">yksilointitieto</tspan></text>
<text x="242.9" y="777" font-size="9.5" fill="#7E7E7E" textLength="35.50" lengthAdjust="spacing">Kohteen</text>
<text x="242.9" y="788" font-size="9.5" fill="#7E7E7E" textLength="111.50" lengthAdjust="spacing">lähtötietojärjestelmän  tvs.</text>
<text x="242.9" y="799" font-size="9.5" fill="#7E7E7E" textLength="97.50" lengthAdjust="spacing">mukainen yksilöintitieto</text>
<path d="M223 825h3v1h-3zM229 825h3v1h-3zM235 825h3v1h-3z" fill="#000"/>
<rect x="242" y="817" width="154" height="25" fill="#C0C0C0"/>
<rect x="238" y="813" width="154" height="25" fill="#fff"/>
<path d="M239 813h3v1h-3zM245 813h3v1h-3zM251 813h3v1h-3zM257 813h3v1h-3zM263 813h3v1h-3zM269 813h3v1h-3zM275 813h3v1h-3zM281 813h3v1h-3zM287 813h3v1h-3zM293 813h3v1h-3zM299 813h3v1h-3zM305 813h3v1h-3zM311 813h3v1h-3zM317 813h3v1h-3zM323 813h3v1h-3zM329 813h3v1h-3zM335 813h3v1h-3zM341 813h3v1h-3zM347 813h3v1h-3zM353 813h3v1h-3zM359 813h3v1h-3zM365 813h3v1h-3zM371 813h3v1h-3zM377 813h3v1h-3zM383 813h3v1h-3zM389 813h3v1h-3zM238 816h1v1h-1zM238 817h1v1h-1zM391 817h1v1h-1zM238 818h1v1h-1zM391 818h1v1h-1zM391 819h1v1h-1zM238 822h1v1h-1zM238 823h1v1h-1zM391 823h1v1h-1zM238 824h1v1h-1zM391 824h1v1h-1zM391 825h1v1h-1zM238 828h1v1h-1zM238 829h1v1h-1zM391 829h1v1h-1zM238 830h1v1h-1zM391 830h1v1h-1zM391 831h1v1h-1zM238 834h1v1h-1zM238 835h1v1h-1zM391 835h1v1h-1zM238 836h1v1h-1zM391 836h1v1h-1zM241 837h3v1h-3zM247 837h3v1h-3zM253 837h3v1h-3zM259 837h3v1h-3zM265 837h3v1h-3zM271 837h3v1h-3zM277 837h3v1h-3zM283 837h3v1h-3zM289 837h3v1h-3zM295 837h3v1h-3zM301 837h3v1h-3zM307 837h3v1h-3zM313 837h3v1h-3zM319 837h3v1h-3zM325 837h3v1h-3zM331 837h3v1h-3zM337 837h3v1h-3zM343 837h3v1h-3zM349 837h3v1h-3zM355 837h3v1h-3zM361 837h3v1h-3zM367 837h3v1h-3zM373 837h3v1h-3zM379 837h3v1h-3zM385 837h3v1h-3zM391 837h1v1h-1z" fill="#000"/>
<rect x="240" y="815" width="6" height="1" fill="#000"/>
<rect x="240" y="817" width="5" height="1" fill="#000"/>
<rect x="240" y="819" width="5" height="1" fill="#000"/>
<text x="247.1" y="829" font-size="11" font-weight="bold" textLength="138.1" lengthAdjust="spacingAndGlyphs"><tspan fill="#808080">kanta:</tspan><tspan fill="#000">sijaintiepavarmuus</tspan></text>
<text x="242.9" y="853" font-size="9.5" fill="#7E7E7E" textLength="89.50" lengthAdjust="spacing">Sijainnin epävarmuus</text>
<path d="M223 879h3v1h-3zM229 879h3v1h-3zM235 879h3v1h-3z" fill="#000"/>
<rect x="242" y="871" width="103" height="25" fill="#C0C0C0"/>
<rect x="238" y="867" width="103" height="25" fill="#fff"/>
<path d="M238 867h1v1h-1zM242 867h3v1h-3zM248 867h3v1h-3zM254 867h3v1h-3zM260 867h3v1h-3zM266 867h3v1h-3zM272 867h3v1h-3zM278 867h3v1h-3zM284 867h3v1h-3zM290 867h3v1h-3zM296 867h3v1h-3zM302 867h3v1h-3zM308 867h3v1h-3zM314 867h3v1h-3zM320 867h3v1h-3zM326 867h3v1h-3zM332 867h3v1h-3zM338 867h3v1h-3zM238 868h1v1h-1zM238 869h1v1h-1zM340 871h1v1h-1zM340 872h1v1h-1zM238 873h1v1h-1zM340 873h1v1h-1zM238 874h1v1h-1zM238 875h1v1h-1zM340 877h1v1h-1zM340 878h1v1h-1zM238 879h1v1h-1zM340 879h1v1h-1zM238 880h1v1h-1zM238 881h1v1h-1zM340 883h1v1h-1zM340 884h1v1h-1zM238 885h1v1h-1zM340 885h1v1h-1zM238 886h1v1h-1zM238 887h1v1h-1zM340 889h1v1h-1zM340 890h1v1h-1zM238 891h3v1h-3zM244 891h3v1h-3zM250 891h3v1h-3zM256 891h3v1h-3zM262 891h3v1h-3zM268 891h3v1h-3zM274 891h3v1h-3zM280 891h3v1h-3zM286 891h3v1h-3zM292 891h3v1h-3zM298 891h3v1h-3zM304 891h3v1h-3zM310 891h3v1h-3zM316 891h3v1h-3zM322 891h3v1h-3zM328 891h3v1h-3zM334 891h3v1h-3zM340 891h1v1h-1z" fill="#000"/>
<rect x="240" y="869" width="6" height="1" fill="#000"/>
<rect x="240" y="871" width="5" height="1" fill="#000"/>
<rect x="240" y="873" width="5" height="1" fill="#000"/>
<text x="247.1" y="883" font-size="11" font-weight="bold" textLength="87.1" lengthAdjust="spacingAndGlyphs"><tspan fill="#808080">kanta:</tspan><tspan fill="#000">luontitapa</tspan></text>
<text x="242.9" y="907" font-size="9.5" fill="#7E7E7E" textLength="77.50" lengthAdjust="spacing">Kohteen luontitapa</text>
<line x1="223" y1="933.5" x2="238" y2="933.5" stroke="#000"/>
<rect x="242" y="925" width="96" height="25" fill="#C0C0C0"/>
<rect x="238.5" y="921.5" width="95" height="24" fill="#fff" stroke="#000"/>
<rect x="240" y="923" width="6" height="1" fill="#000"/>
<rect x="240" y="925" width="5" height="1" fill="#000"/>
<rect x="240" y="927" width="5" height="1" fill="#000"/>
<text x="247.1" y="937" font-size="11" font-weight="bold" textLength="80.1" lengthAdjust="spacingAndGlyphs"><tspan fill="#808080">kanta:</tspan><tspan fill="#000">alkuPvm</tspan></text>
<text x="242.9" y="961" font-size="9.5" fill="#7E7E7E" textLength="108.50" lengthAdjust="spacing">Kohteen luontipäivämäärä</text>
<path d="M223 987h3v1h-3zM229 987h3v1h-3zM235 987h3v1h-3z" fill="#000"/>
<rect x="242" y="979" width="104" height="25" fill="#C0C0C0"/>
<rect x="238" y="975" width="104" height="25" fill="#fff"/>
<path d="M238 975h2v1h-2zM243 975h3v1h-3zM249 975h3v1h-3zM255 975h3v1h-3zM261 975h3v1h-3zM267 975h3v1h-3zM273 975h3v1h-3zM279 975h3v1h-3zM285 975h3v1h-3zM291 975h3v1h-3zM297 975h3v1h-3zM303 975h3v1h-3zM309 975h3v1h-3zM315 975h3v1h-3zM321 975h3v1h-3zM327 975h3v1h-3zM333 975h3v1h-3zM339 975h3v1h-3zM238 976h1v1h-1zM341 976h1v1h-1zM341 977h1v1h-1zM238 980h1v1h-1zM238 981h1v1h-1zM341 981h1v1h-1zM238 982h1v1h-1zM341 982h1v1h-1zM341 983h1v1h-1zM238 986h1v1h-1zM238 987h1v1h-1zM341 987h1v1h-1zM238 988h1v1h-1zM341 988h1v1h-1zM341 989h1v1h-1zM238 992h1v1h-1zM238 993h1v1h-1zM341 993h1v1h-1zM238 994h1v1h-1zM341 994h1v1h-1zM341 995h1v1h-1zM238 998h1v1h-1zM238 999h2v1h-2zM243 999h3v1h-3zM249 999h3v1h-3zM255 999h3v1h-3zM261 999h3v1h-3zM267 999h3v1h-3zM273 999h3v1h-3zM279 999h3v1h-3zM285 999h3v1h-3zM291 999h3v1h-3zM297 999h3v1h-3zM303 999h3v1h-3zM309 999h3v1h-3zM315 999h3v1h-3zM321 999h3v1h-3zM327 999h3v1h-3zM333 999h3v1h-3zM339 999h3v1h-3z" fill="#000"/>
<rect x="240" y="977" width="6" height="1" fill="#000"/>
<rect x="240" y="979" width="5" height="1" fill="#000"/>
<rect x="240" y="981" width="5" height="1" fill="#000"/>
<text x="247.1" y="991" font-size="11" font-weight="bold" textLength="88.1" lengthAdjust="spacingAndGlyphs"><tspan fill="#808080">kanta:</tspan><tspan fill="#000">loppuPvm</tspan></text>
<text x="242.9" y="1015" font-size="9.5" fill="#7E7E7E" textLength="107.50" lengthAdjust="spacing">Milloin kohde on poistettu.</text>
<text x="242.9" y="1026" font-size="9.5" fill="#7E7E7E" textLength="93.50" lengthAdjust="spacing">Tämän avulla voidaan</text>
<text x="242.9" y="1037" font-size="9.5" fill="#7E7E7E" textLength="111.50" lengthAdjust="spacing">tunnistaa poistetut kohteet,</text>
<text x="242.9" y="1048" font-size="9.5" fill="#7E7E7E" textLength="100.50" lengthAdjust="spacing">jos järjestelmät tukevat</text>
<text x="242.9" y="1059" font-size="9.5" fill="#7E7E7E" textLength="115.50" lengthAdjust="spacing">historiatietojen tallentamista</text>
<path d="M223 1085h3v1h-3zM229 1085h3v1h-3zM235 1085h3v1h-3z" fill="#000"/>
<rect x="242" y="1077" width="87" height="25" fill="#C0C0C0"/>
<rect x="238" y="1073" width="87" height="25" fill="#fff"/>
<path d="M238 1073h3v1h-3zM244 1073h3v1h-3zM250 1073h3v1h-3zM256 1073h3v1h-3zM262 1073h3v1h-3zM268 1073h3v1h-3zM274 1073h3v1h-3zM280 1073h3v1h-3zM286 1073h3v1h-3zM292 1073h3v1h-3zM298 1073h3v1h-3zM304 1073h3v1h-3zM310 1073h3v1h-3zM316 1073h3v1h-3zM322 1073h3v1h-3zM324 1075h1v1h-1zM324 1076h1v1h-1zM238 1077h1v1h-1zM324 1077h1v1h-1zM238 1078h1v1h-1zM238 1079h1v1h-1zM324 1081h1v1h-1zM324 1082h1v1h-1zM238 1083h1v1h-1zM324 1083h1v1h-1zM238 1084h1v1h-1zM238 1085h1v1h-1zM324 1087h1v1h-1zM324 1088h1v1h-1zM238 1089h1v1h-1zM324 1089h1v1h-1zM238 1090h1v1h-1zM238 1091h1v1h-1zM324 1093h1v1h-1zM324 1094h1v1h-1zM238 1095h1v1h-1zM324 1095h1v1h-1zM238 1096h1v1h-1zM238 1097h1v1h-1zM242 1097h3v1h-3zM248 1097h3v1h-3zM254 1097h3v1h-3zM260 1097h3v1h-3zM266 1097h3v1h-3zM272 1097h3v1h-3zM278 1097h3v1h-3zM284 1097h3v1h-3zM290 1097h3v1h-3zM296 1097h3v1h-3zM302 1097h3v1h-3zM308 1097h3v1h-3zM314 1097h3v1h-3zM320 1097h3v1h-3z" fill="#000"/>
<text x="247.1" y="1089" font-size="11" font-weight="bold" textLength="66.1" lengthAdjust="spacingAndGlyphs"><tspan fill="#808080">kanta:</tspan><tspan fill="#000">labelit</tspan></text>
<rect x="319.5" y="1080.5" width="10" height="10" fill="#fff" stroke="#000"/>
<line x1="321" y1="1085.5" x2="328" y2="1085.5" stroke="#000"/>
<line x1="324.5" y1="1082" x2="324.5" y2="1089" stroke="#000"/>
<text x="242.9" y="1124" font-size="9.5" fill="#7E7E7E" textLength="102.50" lengthAdjust="spacing">Osoittaa että halutaanko</text>
<text x="242.9" y="1135" font-size="9.5" fill="#7E7E7E" textLength="105.50" lengthAdjust="spacing">kohteen jokin ominaisuus</text>
<text x="242.9" y="1146" font-size="9.5" fill="#7E7E7E" textLength="103.50" lengthAdjust="spacing">näyttää tekstinä kohteen</text>
<text x="242.9" y="1157" font-size="9.5" fill="#7E7E7E" textLength="107.50" lengthAdjust="spacing">visualisoinnin yhteydessä.</text>
<text x="246.9" y="1168" font-size="9.5" fill="#7E7E7E" textLength="114.50" lengthAdjust="spacing">Ks Myös kohdetyyppi Label</text>
<text x="242.9" y="1179" font-size="9.5" fill="#7E7E7E" textLength="67.50" lengthAdjust="spacing">dokumentaaatio</text>
<line x1="155" y1="1205.5" x2="170" y2="1205.5" stroke="#000"/>
<polygon points="178.5,1199.5 202.5,1199.5 207.5,1204.5 207.5,1214.5 202.5,1219.5 178.5,1219.5 173.5,1214.5 173.5,1204.5" fill="#C0C0C0" stroke="#C0C0C0"/>
<polygon points="174.5,1195.5 198.5,1195.5 203.5,1200.5 203.5,1210.5 198.5,1215.5 174.5,1215.5 169.5,1210.5 169.5,1200.5" fill="#fff" stroke="#000"/>
<line x1="174" y1="1205.5" x2="199" y2="1205.5" stroke="#000"/>
<rect x="180" y="1204" width="3" height="3" fill="#000"/>
<rect x="185" y="1204" width="3" height="3" fill="#000"/>
<rect x="190" y="1204" width="3" height="3" fill="#000"/>
<rect x="203.5" y="1200.5" width="10" height="10" fill="#fff" stroke="#000"/>
<line x1="205" y1="1205.5" x2="212" y2="1205.5" stroke="#000"/>
<line x1="214" y1="1205.5" x2="225" y2="1205.5" stroke="#000"/>
<rect x="228" y="1197" width="97" height="25" fill="#C0C0C0"/>
<rect x="224.5" y="1193.5" width="96" height="24" fill="#fff" stroke="#000"/>
<text x="233.1" y="1209" font-size="11" font-weight="bold" textLength="76.1" lengthAdjust="spacingAndGlyphs"><tspan fill="#808080">kanta:</tspan><tspan fill="#000">sijainnit</tspan></text>
<rect x="315.5" y="1200.5" width="10" height="10" fill="#fff" stroke="#000"/>
<line x1="317" y1="1205.5" x2="324" y2="1205.5" stroke="#000"/>
<line x1="320.5" y1="1202" x2="320.5" y2="1209" stroke="#000"/>
<text x="228.9" y="1233" font-size="9.5" fill="#7E7E7E" textLength="72.50" lengthAdjust="spacing">Kohteelle annetut</text>
<text x="228.9" y="1244" font-size="9.5" fill="#7E7E7E" textLength="80.50" lengthAdjust="spacing">sijaintiominaisuudet</text>
<line x1="155" y1="1270.5" x2="170" y2="1270.5" stroke="#000"/>
<polygon points="178.5,1264.5 202.5,1264.5 207.5,1269.5 207.5,1279.5 202.5,1284.5 178.5,1284.5 173.5,1279.5 173.5,1269.5" fill="#C0C0C0" stroke="#C0C0C0"/>
<polygon points="174.5,1260.5 198.5,1260.5 203.5,1265.5 203.5,1275.5 198.5,1280.5 174.5,1280.5 169.5,1275.5 169.5,1265.5" fill="#fff" stroke="#000"/>
<line x1="174" y1="1270.5" x2="199" y2="1270.5" stroke="#000"/>
<rect x="180" y="1269" width="3" height="3" fill="#000"/>
<rect x="185" y="1269" width="3" height="3" fill="#000"/>
<rect x="190" y="1269" width="3" height="3" fill="#000"/>
<rect x="203.5" y="1265.5" width="10" height="10" fill="#fff" stroke="#000"/>
<line x1="205" y1="1270.5" x2="212" y2="1270.5" stroke="#000"/>
<path d="M214 1270h3v1h-3zM220 1270h3v1h-3z" fill="#000"/>
<rect x="228" y="1262" width="153" height="25" fill="#C0C0C0"/>
<rect x="224" y="1258" width="153" height="25" fill="#fff"/>
<path d="M224 1258h3v1h-3zM230 1258h3v1h-3zM236 1258h3v1h-3zM242 1258h3v1h-3zM248 1258h3v1h-3zM254 1258h3v1h-3zM260 1258h3v1h-3zM266 1258h3v1h-3zM272 1258h3v1h-3zM278 1258h3v1h-3zM284 1258h3v1h-3zM290 1258h3v1h-3zM296 1258h3v1h-3zM302 1258h3v1h-3zM308 1258h3v1h-3zM314 1258h3v1h-3zM320 1258h3v1h-3zM326 1258h3v1h-3zM332 1258h3v1h-3zM338 1258h3v1h-3zM344 1258h3v1h-3zM350 1258h3v1h-3zM356 1258h3v1h-3zM362 1258h3v1h-3zM368 1258h3v1h-3zM374 1258h3v1h-3zM376 1260h1v1h-1zM376 1261h1v1h-1zM224 1262h1v1h-1zM376 1262h1v1h-1zM224 1263h1v1h-1zM224 1264h1v1h-1zM376 1266h1v1h-1zM376 1267h1v1h-1zM224 1268h1v1h-1zM376 1268h1v1h-1zM224 1269h1v1h-1zM224 1270h1v1h-1zM376 1272h1v1h-1zM376 1273h1v1h-1zM224 1274h1v1h-1zM376 1274h1v1h-1zM224 1275h1v1h-1zM224 1276h1v1h-1zM376 1278h1v1h-1zM376 1279h1v1h-1zM224 1280h1v1h-1zM376 1280h1v1h-1zM224 1281h1v1h-1zM224 1282h1v1h-1zM228 1282h3v1h-3zM234 1282h3v1h-3zM240 1282h3v1h-3zM246 1282h3v1h-3zM252 1282h3v1h-3zM258 1282h3v1h-3zM264 1282h3v1h-3zM270 1282h3v1h-3zM276 1282h3v1h-3zM282 1282h3v1h-3zM288 1282h3v1h-3zM294 1282h3v1h-3zM300 1282h3v1h-3zM306 1282h3v1h-3zM312 1282h3v1h-3zM318 1282h3v1h-3zM324 1282h3v1h-3zM330 1282h3v1h-3zM336 1282h3v1h-3zM342 1282h3v1h-3zM348 1282h3v1h-3zM354 1282h3v1h-3zM360 1282h3v1h-3zM366 1282h3v1h-3zM372 1282h3v1h-3z" fill="#000"/>
<rect x="226" y="1260" width="6" height="1" fill="#000"/>
<rect x="226" y="1262" width="5" height="1" fill="#000"/>
<rect x="226" y="1264" width="5" height="1" fill="#000"/>
<text x="233.1" y="1274" font-size="11" font-weight="bold" textLength="137.1" lengthAdjust="spacingAndGlyphs"><tspan fill="#808080">kanta:</tspan><tspan fill="#000">alueenTulkittavuus</tspan></text>
<text x="228.9" y="1298" font-size="9.5" fill="#7E7E7E" textLength="89.50" lengthAdjust="spacing">Alueen tulkitttavuus -</text>
<text x="228.9" y="1309" font-size="9.5" fill="#7E7E7E" textLength="118.50" lengthAdjust="spacing">yksikäsitteinen/Epämääräinen</text>
<line x1="155" y1="1335.5" x2="170" y2="1335.5" stroke="#000"/>
<polygon points="178.5,1329.5 202.5,1329.5 207.5,1334.5 207.5,1344.5 202.5,1349.5 178.5,1349.5 173.5,1344.5 173.5,1334.5" fill="#C0C0C0" stroke="#C0C0C0"/>
<polygon points="174.5,1325.5 198.5,1325.5 203.5,1330.5 203.5,1340.5 198.5,1345.5 174.5,1345.5 169.5,1340.5 169.5,1330.5" fill="#fff" stroke="#000"/>
<line x1="174" y1="1335.5" x2="199" y2="1335.5" stroke="#000"/>
<rect x="180" y="1334" width="3" height="3" fill="#000"/>
<rect x="185" y="1334" width="3" height="3" fill="#000"/>
<rect x="190" y="1334" width="3" height="3" fill="#000"/>
<rect x="203.5" y="1330.5" width="10" height="10" fill="#fff" stroke="#000"/>
<line x1="205" y1="1335.5" x2="212" y2="1335.5" stroke="#000"/>
<path d="M214 1335h3v1h-3zM220 1335h3v1h-3z" fill="#000"/>
<rect x="228" y="1327" width="133" height="25" fill="#C0C0C0"/>
<rect x="224" y="1323" width="133" height="25" fill="#fff"/>
<path d="M224 1323h1v1h-1zM228 1323h3v1h-3zM234 1323h3v1h-3zM240 1323h3v1h-3zM246 1323h3v1h-3zM252 1323h3v1h-3zM258 1323h3v1h-3zM264 1323h3v1h-3zM270 1323h3v1h-3zM276 1323h3v1h-3zM282 1323h3v1h-3zM288 1323h3v1h-3zM294 1323h3v1h-3zM300 1323h3v1h-3zM306 1323h3v1h-3zM312 1323h3v1h-3zM318 1323h3v1h-3zM324 1323h3v1h-3zM330 1323h3v1h-3zM336 1323h3v1h-3zM342 1323h3v1h-3zM348 1323h3v1h-3zM354 1323h3v1h-3zM224 1324h1v1h-1zM224 1325h1v1h-1zM356 1327h1v1h-1zM356 1328h1v1h-1zM224 1329h1v1h-1zM356 1329h1v1h-1zM224 1330h1v1h-1zM224 1331h1v1h-1zM356 1333h1v1h-1zM356 1334h1v1h-1zM224 1335h1v1h-1zM356 1335h1v1h-1zM224 1336h1v1h-1zM224 1337h1v1h-1zM356 1339h1v1h-1zM356 1340h1v1h-1zM224 1341h1v1h-1zM356 1341h1v1h-1zM224 1342h1v1h-1zM224 1343h1v1h-1zM356 1345h1v1h-1zM356 1346h1v1h-1zM224 1347h3v1h-3zM230 1347h3v1h-3zM236 1347h3v1h-3zM242 1347h3v1h-3zM248 1347h3v1h-3zM254 1347h3v1h-3zM260 1347h3v1h-3zM266 1347h3v1h-3zM272 1347h3v1h-3zM278 1347h3v1h-3zM284 1347h3v1h-3zM290 1347h3v1h-3zM296 1347h3v1h-3zM302 1347h3v1h-3zM308 1347h3v1h-3zM314 1347h3v1h-3zM320 1347h3v1h-3zM326 1347h3v1h-3zM332 1347h3v1h-3zM338 1347h3v1h-3zM344 1347h3v1h-3zM350 1347h3v1h-3zM356 1347h1v1h-1z" fill="#000"/>
<rect x="226" y="1325" width="6" height="1" fill="#000"/>
<rect x="226" y="1327" width="5" height="1" fill="#000"/>
<rect x="226" y="1329" width="5" height="1" fill="#000"/>
<text x="233.1" y="1339" font-size="11" font-weight="bold" textLength="117.1" lengthAdjust="spacingAndGlyphs"><tspan fill="#808080">kanta:</tspan><tspan fill="#000">kayttotarkoitus</tspan></text>
<text x="228.9" y="1363" font-size="9.5" fill="#7E7E7E" textLength="116.50" lengthAdjust="spacing">Kaatopaikan käyttötarkoitus</text>
</svg>
</body></html>
